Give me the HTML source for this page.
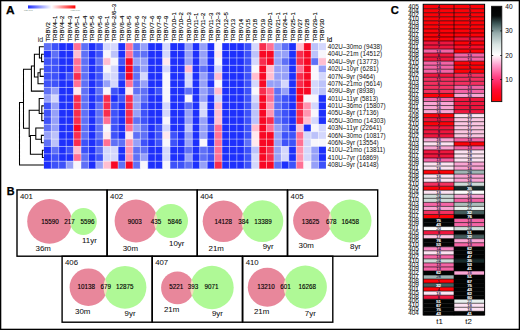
<!DOCTYPE html><html><head><meta charset="utf-8"><title>Figure</title><style>html,body{margin:0;padding:0;background:#fff;}body{width:520px;height:330px;overflow:hidden;}svg{display:block;}text{font-family:"Liberation Sans", sans-serif;}.k{fill:#000;stroke:#000;stroke-width:.12px;}.k2{fill:#111;stroke:#111;stroke-width:.05px;}</style></head><body><svg width="520" height="330" viewBox="0 0 520 330"><defs><linearGradient id="lg" x1="0" x2="1" y1="0" y2="0"><stop offset="0" stop-color="#2030ff"/><stop offset="0.5" stop-color="#ffffff"/><stop offset="1" stop-color="#ff0000"/></linearGradient><linearGradient id="cb" x1="0" x2="0" y1="1" y2="0"><stop offset="0" stop-color="#ff0000"/><stop offset="0.12" stop-color="#ff0a30"/><stop offset="0.25" stop-color="#ff3c80"/><stop offset="0.38" stop-color="#ff9ccc"/><stop offset="0.49" stop-color="#ffffff"/><stop offset="0.60" stop-color="#d8e4e2"/><stop offset="0.72" stop-color="#94aaaa"/><stop offset="0.82" stop-color="#3c5656"/><stop offset="0.90" stop-color="#050808"/><stop offset="1" stop-color="#000000"/></linearGradient></defs><rect x="0" y="0" width="520" height="330" fill="#fff"/><text x="6.0" y="13.75" font-size="10.8" font-weight="bold" fill="#000" stroke="#000" stroke-width="0.25" textLength="8.6" lengthAdjust="spacingAndGlyphs">A</text><rect x="28" y="5.4" width="47.4" height="3.1" fill="url(#lg)"/><text x="24" y="10.9" font-size="2.3" fill="#5a7a70" textLength="8.8" lengthAdjust="spacingAndGlyphs">Low level</text><text x="70.5" y="10.9" font-size="2.3" fill="#5a7a70" textLength="9.4" lengthAdjust="spacingAndGlyphs">High level</text><rect x="43.9" y="43.15" width="7.47" height="7.43" fill="rgb(95,112,246)"/><rect x="51.32" y="43.15" width="7.47" height="7.43" fill="rgb(62,82,249)"/><rect x="58.74" y="43.15" width="7.47" height="7.43" fill="rgb(30,48,252)"/><rect x="66.16" y="43.15" width="7.47" height="7.43" fill="rgb(30,48,252)"/><rect x="73.58" y="43.15" width="7.47" height="7.43" fill="rgb(255,112,148)"/><rect x="81.01" y="43.15" width="7.47" height="7.43" fill="rgb(95,112,246)"/><rect x="88.43" y="43.15" width="7.47" height="7.43" fill="rgb(30,48,252)"/><rect x="95.85" y="43.15" width="7.47" height="7.43" fill="rgb(62,82,249)"/><rect x="103.27" y="43.15" width="7.47" height="7.43" fill="rgb(212,215,252)"/><rect x="110.69" y="43.15" width="7.47" height="7.43" fill="rgb(212,215,252)"/><rect x="118.11" y="43.15" width="7.47" height="7.43" fill="rgb(30,48,252)"/><rect x="125.53" y="43.15" width="7.47" height="7.43" fill="rgb(255,112,148)"/><rect x="132.95" y="43.15" width="7.47" height="7.43" fill="rgb(95,112,246)"/><rect x="140.37" y="43.15" width="7.47" height="7.43" fill="rgb(150,160,248)"/><rect x="147.79" y="43.15" width="7.47" height="7.43" fill="rgb(30,48,252)"/><rect x="155.22" y="43.15" width="7.47" height="7.43" fill="rgb(30,48,252)"/><rect x="162.64" y="43.15" width="7.47" height="7.43" fill="rgb(212,215,252)"/><rect x="170.06" y="43.15" width="7.47" height="7.43" fill="rgb(30,48,252)"/><rect x="177.48" y="43.15" width="7.47" height="7.43" fill="rgb(30,48,252)"/><rect x="184.9" y="43.15" width="7.47" height="7.43" fill="rgb(150,160,248)"/><rect x="192.32" y="43.15" width="7.47" height="7.43" fill="rgb(30,48,252)"/><rect x="199.74" y="43.15" width="7.47" height="7.43" fill="rgb(150,160,248)"/><rect x="207.16" y="43.15" width="7.47" height="7.43" fill="rgb(30,48,252)"/><rect x="214.58" y="43.15" width="7.47" height="7.43" fill="rgb(248,246,252)"/><rect x="222.01" y="43.15" width="7.47" height="7.43" fill="rgb(30,48,252)"/><rect x="229.43" y="43.15" width="7.47" height="7.43" fill="rgb(30,48,252)"/><rect x="236.85" y="43.15" width="7.47" height="7.43" fill="rgb(30,48,252)"/><rect x="244.27" y="43.15" width="7.47" height="7.43" fill="rgb(62,82,249)"/><rect x="251.69" y="43.15" width="7.47" height="7.43" fill="rgb(212,215,252)"/><rect x="259.11" y="43.15" width="7.47" height="7.43" fill="rgb(248,45,78)"/><rect x="266.53" y="43.15" width="7.47" height="7.43" fill="rgb(255,112,148)"/><rect x="273.95" y="43.15" width="7.47" height="7.43" fill="rgb(150,160,248)"/><rect x="281.37" y="43.15" width="7.47" height="7.43" fill="rgb(95,112,246)"/><rect x="288.79" y="43.15" width="7.47" height="7.43" fill="rgb(30,48,252)"/><rect x="296.22" y="43.15" width="7.47" height="7.43" fill="rgb(255,190,208)"/><rect x="303.64" y="43.15" width="7.47" height="7.43" fill="rgb(248,8,36)"/><rect x="311.06" y="43.15" width="7.47" height="7.43" fill="rgb(188,194,250)"/><rect x="318.48" y="43.15" width="7.47" height="7.43" fill="rgb(212,215,252)"/><rect x="43.9" y="50.53" width="7.47" height="7.43" fill="rgb(30,48,252)"/><rect x="51.32" y="50.53" width="7.47" height="7.43" fill="rgb(95,112,246)"/><rect x="58.74" y="50.53" width="7.47" height="7.43" fill="rgb(30,48,252)"/><rect x="66.16" y="50.53" width="7.47" height="7.43" fill="rgb(30,48,252)"/><rect x="73.58" y="50.53" width="7.47" height="7.43" fill="rgb(255,190,208)"/><rect x="81.01" y="50.53" width="7.47" height="7.43" fill="rgb(95,112,246)"/><rect x="88.43" y="50.53" width="7.47" height="7.43" fill="rgb(30,48,252)"/><rect x="95.85" y="50.53" width="7.47" height="7.43" fill="rgb(62,82,249)"/><rect x="103.27" y="50.53" width="7.47" height="7.43" fill="rgb(248,246,252)"/><rect x="110.69" y="50.53" width="7.47" height="7.43" fill="rgb(188,194,250)"/><rect x="118.11" y="50.53" width="7.47" height="7.43" fill="rgb(30,48,252)"/><rect x="125.53" y="50.53" width="7.47" height="7.43" fill="rgb(255,112,148)"/><rect x="132.95" y="50.53" width="7.47" height="7.43" fill="rgb(95,112,246)"/><rect x="140.37" y="50.53" width="7.47" height="7.43" fill="rgb(95,112,246)"/><rect x="147.79" y="50.53" width="7.47" height="7.43" fill="rgb(30,48,252)"/><rect x="155.22" y="50.53" width="7.47" height="7.43" fill="rgb(30,48,252)"/><rect x="162.64" y="50.53" width="7.47" height="7.43" fill="rgb(212,215,252)"/><rect x="170.06" y="50.53" width="7.47" height="7.43" fill="rgb(30,48,252)"/><rect x="177.48" y="50.53" width="7.47" height="7.43" fill="rgb(30,48,252)"/><rect x="184.9" y="50.53" width="7.47" height="7.43" fill="rgb(150,160,248)"/><rect x="192.32" y="50.53" width="7.47" height="7.43" fill="rgb(30,48,252)"/><rect x="199.74" y="50.53" width="7.47" height="7.43" fill="rgb(150,160,248)"/><rect x="207.16" y="50.53" width="7.47" height="7.43" fill="rgb(30,48,252)"/><rect x="214.58" y="50.53" width="7.47" height="7.43" fill="rgb(255,232,238)"/><rect x="222.01" y="50.53" width="7.47" height="7.43" fill="rgb(30,48,252)"/><rect x="229.43" y="50.53" width="7.47" height="7.43" fill="rgb(30,48,252)"/><rect x="236.85" y="50.53" width="7.47" height="7.43" fill="rgb(30,48,252)"/><rect x="244.27" y="50.53" width="7.47" height="7.43" fill="rgb(62,82,249)"/><rect x="251.69" y="50.53" width="7.47" height="7.43" fill="rgb(188,194,250)"/><rect x="259.11" y="50.53" width="7.47" height="7.43" fill="rgb(248,8,36)"/><rect x="266.53" y="50.53" width="7.47" height="7.43" fill="rgb(248,8,36)"/><rect x="273.95" y="50.53" width="7.47" height="7.43" fill="rgb(150,160,248)"/><rect x="281.37" y="50.53" width="7.47" height="7.43" fill="rgb(150,160,248)"/><rect x="288.79" y="50.53" width="7.47" height="7.43" fill="rgb(30,48,252)"/><rect x="296.22" y="50.53" width="7.47" height="7.43" fill="rgb(248,45,78)"/><rect x="303.64" y="50.53" width="7.47" height="7.43" fill="rgb(248,8,36)"/><rect x="311.06" y="50.53" width="7.47" height="7.43" fill="rgb(188,194,250)"/><rect x="318.48" y="50.53" width="7.47" height="7.43" fill="rgb(248,246,252)"/><rect x="43.9" y="57.91" width="7.47" height="7.43" fill="rgb(62,82,249)"/><rect x="51.32" y="57.91" width="7.47" height="7.43" fill="rgb(62,82,249)"/><rect x="58.74" y="57.91" width="7.47" height="7.43" fill="rgb(30,48,252)"/><rect x="66.16" y="57.91" width="7.47" height="7.43" fill="rgb(30,48,252)"/><rect x="73.58" y="57.91" width="7.47" height="7.43" fill="rgb(255,112,148)"/><rect x="81.01" y="57.91" width="7.47" height="7.43" fill="rgb(95,112,246)"/><rect x="88.43" y="57.91" width="7.47" height="7.43" fill="rgb(30,48,252)"/><rect x="95.85" y="57.91" width="7.47" height="7.43" fill="rgb(95,112,246)"/><rect x="103.27" y="57.91" width="7.47" height="7.43" fill="rgb(255,190,208)"/><rect x="110.69" y="57.91" width="7.47" height="7.43" fill="rgb(248,246,252)"/><rect x="118.11" y="57.91" width="7.47" height="7.43" fill="rgb(62,82,249)"/><rect x="125.53" y="57.91" width="7.47" height="7.43" fill="rgb(248,8,36)"/><rect x="132.95" y="57.91" width="7.47" height="7.43" fill="rgb(150,160,248)"/><rect x="140.37" y="57.91" width="7.47" height="7.43" fill="rgb(150,160,248)"/><rect x="147.79" y="57.91" width="7.47" height="7.43" fill="rgb(30,48,252)"/><rect x="155.22" y="57.91" width="7.47" height="7.43" fill="rgb(30,48,252)"/><rect x="162.64" y="57.91" width="7.47" height="7.43" fill="rgb(255,232,238)"/><rect x="170.06" y="57.91" width="7.47" height="7.43" fill="rgb(30,48,252)"/><rect x="177.48" y="57.91" width="7.47" height="7.43" fill="rgb(30,48,252)"/><rect x="184.9" y="57.91" width="7.47" height="7.43" fill="rgb(150,160,248)"/><rect x="192.32" y="57.91" width="7.47" height="7.43" fill="rgb(30,48,252)"/><rect x="199.74" y="57.91" width="7.47" height="7.43" fill="rgb(150,160,248)"/><rect x="207.16" y="57.91" width="7.47" height="7.43" fill="rgb(30,48,252)"/><rect x="214.58" y="57.91" width="7.47" height="7.43" fill="rgb(248,246,252)"/><rect x="222.01" y="57.91" width="7.47" height="7.43" fill="rgb(30,48,252)"/><rect x="229.43" y="57.91" width="7.47" height="7.43" fill="rgb(30,48,252)"/><rect x="236.85" y="57.91" width="7.47" height="7.43" fill="rgb(30,48,252)"/><rect x="244.27" y="57.91" width="7.47" height="7.43" fill="rgb(62,82,249)"/><rect x="251.69" y="57.91" width="7.47" height="7.43" fill="rgb(212,215,252)"/><rect x="259.11" y="57.91" width="7.47" height="7.43" fill="rgb(248,45,78)"/><rect x="266.53" y="57.91" width="7.47" height="7.43" fill="rgb(248,8,36)"/><rect x="273.95" y="57.91" width="7.47" height="7.43" fill="rgb(150,160,248)"/><rect x="281.37" y="57.91" width="7.47" height="7.43" fill="rgb(95,112,246)"/><rect x="288.79" y="57.91" width="7.47" height="7.43" fill="rgb(30,48,252)"/><rect x="296.22" y="57.91" width="7.47" height="7.43" fill="rgb(248,45,78)"/><rect x="303.64" y="57.91" width="7.47" height="7.43" fill="rgb(248,8,36)"/><rect x="311.06" y="57.91" width="7.47" height="7.43" fill="rgb(95,112,246)"/><rect x="318.48" y="57.91" width="7.47" height="7.43" fill="rgb(255,190,208)"/><rect x="43.9" y="65.29" width="7.47" height="7.43" fill="rgb(62,82,249)"/><rect x="51.32" y="65.29" width="7.47" height="7.43" fill="rgb(62,82,249)"/><rect x="58.74" y="65.29" width="7.47" height="7.43" fill="rgb(30,48,252)"/><rect x="66.16" y="65.29" width="7.47" height="7.43" fill="rgb(30,48,252)"/><rect x="73.58" y="65.29" width="7.47" height="7.43" fill="rgb(255,112,148)"/><rect x="81.01" y="65.29" width="7.47" height="7.43" fill="rgb(95,112,246)"/><rect x="88.43" y="65.29" width="7.47" height="7.43" fill="rgb(30,48,252)"/><rect x="95.85" y="65.29" width="7.47" height="7.43" fill="rgb(62,82,249)"/><rect x="103.27" y="65.29" width="7.47" height="7.43" fill="rgb(248,246,252)"/><rect x="110.69" y="65.29" width="7.47" height="7.43" fill="rgb(212,215,252)"/><rect x="118.11" y="65.29" width="7.47" height="7.43" fill="rgb(30,48,252)"/><rect x="125.53" y="65.29" width="7.47" height="7.43" fill="rgb(248,8,36)"/><rect x="132.95" y="65.29" width="7.47" height="7.43" fill="rgb(95,112,246)"/><rect x="140.37" y="65.29" width="7.47" height="7.43" fill="rgb(150,160,248)"/><rect x="147.79" y="65.29" width="7.47" height="7.43" fill="rgb(30,48,252)"/><rect x="155.22" y="65.29" width="7.47" height="7.43" fill="rgb(30,48,252)"/><rect x="162.64" y="65.29" width="7.47" height="7.43" fill="rgb(212,215,252)"/><rect x="170.06" y="65.29" width="7.47" height="7.43" fill="rgb(30,48,252)"/><rect x="177.48" y="65.29" width="7.47" height="7.43" fill="rgb(30,48,252)"/><rect x="184.9" y="65.29" width="7.47" height="7.43" fill="rgb(255,190,208)"/><rect x="192.32" y="65.29" width="7.47" height="7.43" fill="rgb(30,48,252)"/><rect x="199.74" y="65.29" width="7.47" height="7.43" fill="rgb(95,112,246)"/><rect x="207.16" y="65.29" width="7.47" height="7.43" fill="rgb(30,48,252)"/><rect x="214.58" y="65.29" width="7.47" height="7.43" fill="rgb(212,215,252)"/><rect x="222.01" y="65.29" width="7.47" height="7.43" fill="rgb(30,48,252)"/><rect x="229.43" y="65.29" width="7.47" height="7.43" fill="rgb(30,48,252)"/><rect x="236.85" y="65.29" width="7.47" height="7.43" fill="rgb(30,48,252)"/><rect x="244.27" y="65.29" width="7.47" height="7.43" fill="rgb(62,82,249)"/><rect x="251.69" y="65.29" width="7.47" height="7.43" fill="rgb(248,246,252)"/><rect x="259.11" y="65.29" width="7.47" height="7.43" fill="rgb(248,8,36)"/><rect x="266.53" y="65.29" width="7.47" height="7.43" fill="rgb(255,190,208)"/><rect x="273.95" y="65.29" width="7.47" height="7.43" fill="rgb(150,160,248)"/><rect x="281.37" y="65.29" width="7.47" height="7.43" fill="rgb(150,160,248)"/><rect x="288.79" y="65.29" width="7.47" height="7.43" fill="rgb(30,48,252)"/><rect x="296.22" y="65.29" width="7.47" height="7.43" fill="rgb(255,112,148)"/><rect x="303.64" y="65.29" width="7.47" height="7.43" fill="rgb(248,8,36)"/><rect x="311.06" y="65.29" width="7.47" height="7.43" fill="rgb(248,246,252)"/><rect x="318.48" y="65.29" width="7.47" height="7.43" fill="rgb(150,160,248)"/><rect x="43.9" y="72.67" width="7.47" height="7.43" fill="rgb(62,82,249)"/><rect x="51.32" y="72.67" width="7.47" height="7.43" fill="rgb(62,82,249)"/><rect x="58.74" y="72.67" width="7.47" height="7.43" fill="rgb(30,48,252)"/><rect x="66.16" y="72.67" width="7.47" height="7.43" fill="rgb(62,82,249)"/><rect x="73.58" y="72.67" width="7.47" height="7.43" fill="rgb(248,45,78)"/><rect x="81.01" y="72.67" width="7.47" height="7.43" fill="rgb(95,112,246)"/><rect x="88.43" y="72.67" width="7.47" height="7.43" fill="rgb(30,48,252)"/><rect x="95.85" y="72.67" width="7.47" height="7.43" fill="rgb(62,82,249)"/><rect x="103.27" y="72.67" width="7.47" height="7.43" fill="rgb(212,215,252)"/><rect x="110.69" y="72.67" width="7.47" height="7.43" fill="rgb(212,215,252)"/><rect x="118.11" y="72.67" width="7.47" height="7.43" fill="rgb(62,82,249)"/><rect x="125.53" y="72.67" width="7.47" height="7.43" fill="rgb(248,8,36)"/><rect x="132.95" y="72.67" width="7.47" height="7.43" fill="rgb(95,112,246)"/><rect x="140.37" y="72.67" width="7.47" height="7.43" fill="rgb(212,215,252)"/><rect x="147.79" y="72.67" width="7.47" height="7.43" fill="rgb(30,48,252)"/><rect x="155.22" y="72.67" width="7.47" height="7.43" fill="rgb(30,48,252)"/><rect x="162.64" y="72.67" width="7.47" height="7.43" fill="rgb(248,246,252)"/><rect x="170.06" y="72.67" width="7.47" height="7.43" fill="rgb(30,48,252)"/><rect x="177.48" y="72.67" width="7.47" height="7.43" fill="rgb(30,48,252)"/><rect x="184.9" y="72.67" width="7.47" height="7.43" fill="rgb(212,215,252)"/><rect x="192.32" y="72.67" width="7.47" height="7.43" fill="rgb(30,48,252)"/><rect x="199.74" y="72.67" width="7.47" height="7.43" fill="rgb(150,160,248)"/><rect x="207.16" y="72.67" width="7.47" height="7.43" fill="rgb(62,82,249)"/><rect x="214.58" y="72.67" width="7.47" height="7.43" fill="rgb(255,190,208)"/><rect x="222.01" y="72.67" width="7.47" height="7.43" fill="rgb(30,48,252)"/><rect x="229.43" y="72.67" width="7.47" height="7.43" fill="rgb(30,48,252)"/><rect x="236.85" y="72.67" width="7.47" height="7.43" fill="rgb(30,48,252)"/><rect x="244.27" y="72.67" width="7.47" height="7.43" fill="rgb(62,82,249)"/><rect x="251.69" y="72.67" width="7.47" height="7.43" fill="rgb(255,190,208)"/><rect x="259.11" y="72.67" width="7.47" height="7.43" fill="rgb(248,8,36)"/><rect x="266.53" y="72.67" width="7.47" height="7.43" fill="rgb(255,190,208)"/><rect x="273.95" y="72.67" width="7.47" height="7.43" fill="rgb(150,160,248)"/><rect x="281.37" y="72.67" width="7.47" height="7.43" fill="rgb(150,160,248)"/><rect x="288.79" y="72.67" width="7.47" height="7.43" fill="rgb(30,48,252)"/><rect x="296.22" y="72.67" width="7.47" height="7.43" fill="rgb(248,45,78)"/><rect x="303.64" y="72.67" width="7.47" height="7.43" fill="rgb(248,8,36)"/><rect x="311.06" y="72.67" width="7.47" height="7.43" fill="rgb(248,246,252)"/><rect x="318.48" y="72.67" width="7.47" height="7.43" fill="rgb(212,215,252)"/><rect x="43.9" y="80.05" width="7.47" height="7.43" fill="rgb(62,82,249)"/><rect x="51.32" y="80.05" width="7.47" height="7.43" fill="rgb(62,82,249)"/><rect x="58.74" y="80.05" width="7.47" height="7.43" fill="rgb(30,48,252)"/><rect x="66.16" y="80.05" width="7.47" height="7.43" fill="rgb(30,48,252)"/><rect x="73.58" y="80.05" width="7.47" height="7.43" fill="rgb(255,112,148)"/><rect x="81.01" y="80.05" width="7.47" height="7.43" fill="rgb(95,112,246)"/><rect x="88.43" y="80.05" width="7.47" height="7.43" fill="rgb(30,48,252)"/><rect x="95.85" y="80.05" width="7.47" height="7.43" fill="rgb(62,82,249)"/><rect x="103.27" y="80.05" width="7.47" height="7.43" fill="rgb(150,160,248)"/><rect x="110.69" y="80.05" width="7.47" height="7.43" fill="rgb(212,215,252)"/><rect x="118.11" y="80.05" width="7.47" height="7.43" fill="rgb(30,48,252)"/><rect x="125.53" y="80.05" width="7.47" height="7.43" fill="rgb(255,112,148)"/><rect x="132.95" y="80.05" width="7.47" height="7.43" fill="rgb(95,112,246)"/><rect x="140.37" y="80.05" width="7.47" height="7.43" fill="rgb(150,160,248)"/><rect x="147.79" y="80.05" width="7.47" height="7.43" fill="rgb(30,48,252)"/><rect x="155.22" y="80.05" width="7.47" height="7.43" fill="rgb(30,48,252)"/><rect x="162.64" y="80.05" width="7.47" height="7.43" fill="rgb(248,246,252)"/><rect x="170.06" y="80.05" width="7.47" height="7.43" fill="rgb(30,48,252)"/><rect x="177.48" y="80.05" width="7.47" height="7.43" fill="rgb(30,48,252)"/><rect x="184.9" y="80.05" width="7.47" height="7.43" fill="rgb(212,215,252)"/><rect x="192.32" y="80.05" width="7.47" height="7.43" fill="rgb(30,48,252)"/><rect x="199.74" y="80.05" width="7.47" height="7.43" fill="rgb(150,160,248)"/><rect x="207.16" y="80.05" width="7.47" height="7.43" fill="rgb(30,48,252)"/><rect x="214.58" y="80.05" width="7.47" height="7.43" fill="rgb(248,246,252)"/><rect x="222.01" y="80.05" width="7.47" height="7.43" fill="rgb(30,48,252)"/><rect x="229.43" y="80.05" width="7.47" height="7.43" fill="rgb(30,48,252)"/><rect x="236.85" y="80.05" width="7.47" height="7.43" fill="rgb(30,48,252)"/><rect x="244.27" y="80.05" width="7.47" height="7.43" fill="rgb(62,82,249)"/><rect x="251.69" y="80.05" width="7.47" height="7.43" fill="rgb(212,215,252)"/><rect x="259.11" y="80.05" width="7.47" height="7.43" fill="rgb(248,8,36)"/><rect x="266.53" y="80.05" width="7.47" height="7.43" fill="rgb(150,160,248)"/><rect x="273.95" y="80.05" width="7.47" height="7.43" fill="rgb(150,160,248)"/><rect x="281.37" y="80.05" width="7.47" height="7.43" fill="rgb(212,215,252)"/><rect x="288.79" y="80.05" width="7.47" height="7.43" fill="rgb(30,48,252)"/><rect x="296.22" y="80.05" width="7.47" height="7.43" fill="rgb(248,45,78)"/><rect x="303.64" y="80.05" width="7.47" height="7.43" fill="rgb(248,8,36)"/><rect x="311.06" y="80.05" width="7.47" height="7.43" fill="rgb(212,215,252)"/><rect x="318.48" y="80.05" width="7.47" height="7.43" fill="rgb(188,194,250)"/><rect x="43.9" y="87.43" width="7.47" height="7.43" fill="rgb(95,112,246)"/><rect x="51.32" y="87.43" width="7.47" height="7.43" fill="rgb(150,160,248)"/><rect x="58.74" y="87.43" width="7.47" height="7.43" fill="rgb(30,48,252)"/><rect x="66.16" y="87.43" width="7.47" height="7.43" fill="rgb(30,48,252)"/><rect x="73.58" y="87.43" width="7.47" height="7.43" fill="rgb(255,232,238)"/><rect x="81.01" y="87.43" width="7.47" height="7.43" fill="rgb(95,112,246)"/><rect x="88.43" y="87.43" width="7.47" height="7.43" fill="rgb(30,48,252)"/><rect x="95.85" y="87.43" width="7.47" height="7.43" fill="rgb(95,112,246)"/><rect x="103.27" y="87.43" width="7.47" height="7.43" fill="rgb(248,246,252)"/><rect x="110.69" y="87.43" width="7.47" height="7.43" fill="rgb(62,82,249)"/><rect x="118.11" y="87.43" width="7.47" height="7.43" fill="rgb(30,48,252)"/><rect x="125.53" y="87.43" width="7.47" height="7.43" fill="rgb(255,232,238)"/><rect x="132.95" y="87.43" width="7.47" height="7.43" fill="rgb(95,112,246)"/><rect x="140.37" y="87.43" width="7.47" height="7.43" fill="rgb(95,112,246)"/><rect x="147.79" y="87.43" width="7.47" height="7.43" fill="rgb(30,48,252)"/><rect x="155.22" y="87.43" width="7.47" height="7.43" fill="rgb(62,82,249)"/><rect x="162.64" y="87.43" width="7.47" height="7.43" fill="rgb(248,246,252)"/><rect x="170.06" y="87.43" width="7.47" height="7.43" fill="rgb(30,48,252)"/><rect x="177.48" y="87.43" width="7.47" height="7.43" fill="rgb(30,48,252)"/><rect x="184.9" y="87.43" width="7.47" height="7.43" fill="rgb(95,112,246)"/><rect x="192.32" y="87.43" width="7.47" height="7.43" fill="rgb(30,48,252)"/><rect x="199.74" y="87.43" width="7.47" height="7.43" fill="rgb(150,160,248)"/><rect x="207.16" y="87.43" width="7.47" height="7.43" fill="rgb(95,112,246)"/><rect x="214.58" y="87.43" width="7.47" height="7.43" fill="rgb(255,190,208)"/><rect x="222.01" y="87.43" width="7.47" height="7.43" fill="rgb(30,48,252)"/><rect x="229.43" y="87.43" width="7.47" height="7.43" fill="rgb(30,48,252)"/><rect x="236.85" y="87.43" width="7.47" height="7.43" fill="rgb(30,48,252)"/><rect x="244.27" y="87.43" width="7.47" height="7.43" fill="rgb(62,82,249)"/><rect x="251.69" y="87.43" width="7.47" height="7.43" fill="rgb(248,246,252)"/><rect x="259.11" y="87.43" width="7.47" height="7.43" fill="rgb(248,45,78)"/><rect x="266.53" y="87.43" width="7.47" height="7.43" fill="rgb(255,112,148)"/><rect x="273.95" y="87.43" width="7.47" height="7.43" fill="rgb(95,112,246)"/><rect x="281.37" y="87.43" width="7.47" height="7.43" fill="rgb(150,160,248)"/><rect x="288.79" y="87.43" width="7.47" height="7.43" fill="rgb(30,48,252)"/><rect x="296.22" y="87.43" width="7.47" height="7.43" fill="rgb(248,8,36)"/><rect x="303.64" y="87.43" width="7.47" height="7.43" fill="rgb(248,8,36)"/><rect x="311.06" y="87.43" width="7.47" height="7.43" fill="rgb(212,215,252)"/><rect x="318.48" y="87.43" width="7.47" height="7.43" fill="rgb(188,194,250)"/><rect x="43.9" y="94.81" width="7.47" height="7.43" fill="rgb(150,160,248)"/><rect x="51.32" y="94.81" width="7.47" height="7.43" fill="rgb(212,215,252)"/><rect x="58.74" y="94.81" width="7.47" height="7.43" fill="rgb(30,48,252)"/><rect x="66.16" y="94.81" width="7.47" height="7.43" fill="rgb(30,48,252)"/><rect x="73.58" y="94.81" width="7.47" height="7.43" fill="rgb(248,45,78)"/><rect x="81.01" y="94.81" width="7.47" height="7.43" fill="rgb(95,112,246)"/><rect x="88.43" y="94.81" width="7.47" height="7.43" fill="rgb(30,48,252)"/><rect x="95.85" y="94.81" width="7.47" height="7.43" fill="rgb(62,82,249)"/><rect x="103.27" y="94.81" width="7.47" height="7.43" fill="rgb(248,45,78)"/><rect x="110.69" y="94.81" width="7.47" height="7.43" fill="rgb(30,48,252)"/><rect x="118.11" y="94.81" width="7.47" height="7.43" fill="rgb(62,82,249)"/><rect x="125.53" y="94.81" width="7.47" height="7.43" fill="rgb(248,45,78)"/><rect x="132.95" y="94.81" width="7.47" height="7.43" fill="rgb(150,160,248)"/><rect x="140.37" y="94.81" width="7.47" height="7.43" fill="rgb(95,112,246)"/><rect x="147.79" y="94.81" width="7.47" height="7.43" fill="rgb(30,48,252)"/><rect x="155.22" y="94.81" width="7.47" height="7.43" fill="rgb(30,48,252)"/><rect x="162.64" y="94.81" width="7.47" height="7.43" fill="rgb(248,246,252)"/><rect x="170.06" y="94.81" width="7.47" height="7.43" fill="rgb(30,48,252)"/><rect x="177.48" y="94.81" width="7.47" height="7.43" fill="rgb(30,48,252)"/><rect x="184.9" y="94.81" width="7.47" height="7.43" fill="rgb(248,246,252)"/><rect x="192.32" y="94.81" width="7.47" height="7.43" fill="rgb(30,48,252)"/><rect x="199.74" y="94.81" width="7.47" height="7.43" fill="rgb(150,160,248)"/><rect x="207.16" y="94.81" width="7.47" height="7.43" fill="rgb(30,48,252)"/><rect x="214.58" y="94.81" width="7.47" height="7.43" fill="rgb(212,215,252)"/><rect x="222.01" y="94.81" width="7.47" height="7.43" fill="rgb(30,48,252)"/><rect x="229.43" y="94.81" width="7.47" height="7.43" fill="rgb(30,48,252)"/><rect x="236.85" y="94.81" width="7.47" height="7.43" fill="rgb(30,48,252)"/><rect x="244.27" y="94.81" width="7.47" height="7.43" fill="rgb(62,82,249)"/><rect x="251.69" y="94.81" width="7.47" height="7.43" fill="rgb(212,215,252)"/><rect x="259.11" y="94.81" width="7.47" height="7.43" fill="rgb(248,8,36)"/><rect x="266.53" y="94.81" width="7.47" height="7.43" fill="rgb(255,112,148)"/><rect x="273.95" y="94.81" width="7.47" height="7.43" fill="rgb(95,112,246)"/><rect x="281.37" y="94.81" width="7.47" height="7.43" fill="rgb(62,82,249)"/><rect x="288.79" y="94.81" width="7.47" height="7.43" fill="rgb(30,48,252)"/><rect x="296.22" y="94.81" width="7.47" height="7.43" fill="rgb(248,8,36)"/><rect x="303.64" y="94.81" width="7.47" height="7.43" fill="rgb(248,246,252)"/><rect x="311.06" y="94.81" width="7.47" height="7.43" fill="rgb(248,246,252)"/><rect x="318.48" y="94.81" width="7.47" height="7.43" fill="rgb(30,48,252)"/><rect x="43.9" y="102.19" width="7.47" height="7.43" fill="rgb(62,82,249)"/><rect x="51.32" y="102.19" width="7.47" height="7.43" fill="rgb(150,160,248)"/><rect x="58.74" y="102.19" width="7.47" height="7.43" fill="rgb(30,48,252)"/><rect x="66.16" y="102.19" width="7.47" height="7.43" fill="rgb(30,48,252)"/><rect x="73.58" y="102.19" width="7.47" height="7.43" fill="rgb(248,45,78)"/><rect x="81.01" y="102.19" width="7.47" height="7.43" fill="rgb(95,112,246)"/><rect x="88.43" y="102.19" width="7.47" height="7.43" fill="rgb(30,48,252)"/><rect x="95.85" y="102.19" width="7.47" height="7.43" fill="rgb(95,112,246)"/><rect x="103.27" y="102.19" width="7.47" height="7.43" fill="rgb(248,45,78)"/><rect x="110.69" y="102.19" width="7.47" height="7.43" fill="rgb(62,82,249)"/><rect x="118.11" y="102.19" width="7.47" height="7.43" fill="rgb(30,48,252)"/><rect x="125.53" y="102.19" width="7.47" height="7.43" fill="rgb(248,45,78)"/><rect x="132.95" y="102.19" width="7.47" height="7.43" fill="rgb(150,160,248)"/><rect x="140.37" y="102.19" width="7.47" height="7.43" fill="rgb(62,82,249)"/><rect x="147.79" y="102.19" width="7.47" height="7.43" fill="rgb(30,48,252)"/><rect x="155.22" y="102.19" width="7.47" height="7.43" fill="rgb(30,48,252)"/><rect x="162.64" y="102.19" width="7.47" height="7.43" fill="rgb(212,215,252)"/><rect x="170.06" y="102.19" width="7.47" height="7.43" fill="rgb(30,48,252)"/><rect x="177.48" y="102.19" width="7.47" height="7.43" fill="rgb(30,48,252)"/><rect x="184.9" y="102.19" width="7.47" height="7.43" fill="rgb(95,112,246)"/><rect x="192.32" y="102.19" width="7.47" height="7.43" fill="rgb(30,48,252)"/><rect x="199.74" y="102.19" width="7.47" height="7.43" fill="rgb(212,215,252)"/><rect x="207.16" y="102.19" width="7.47" height="7.43" fill="rgb(30,48,252)"/><rect x="214.58" y="102.19" width="7.47" height="7.43" fill="rgb(255,190,208)"/><rect x="222.01" y="102.19" width="7.47" height="7.43" fill="rgb(30,48,252)"/><rect x="229.43" y="102.19" width="7.47" height="7.43" fill="rgb(30,48,252)"/><rect x="236.85" y="102.19" width="7.47" height="7.43" fill="rgb(30,48,252)"/><rect x="244.27" y="102.19" width="7.47" height="7.43" fill="rgb(62,82,249)"/><rect x="251.69" y="102.19" width="7.47" height="7.43" fill="rgb(188,194,250)"/><rect x="259.11" y="102.19" width="7.47" height="7.43" fill="rgb(248,8,36)"/><rect x="266.53" y="102.19" width="7.47" height="7.43" fill="rgb(255,148,176)"/><rect x="273.95" y="102.19" width="7.47" height="7.43" fill="rgb(95,112,246)"/><rect x="281.37" y="102.19" width="7.47" height="7.43" fill="rgb(62,82,249)"/><rect x="288.79" y="102.19" width="7.47" height="7.43" fill="rgb(30,48,252)"/><rect x="296.22" y="102.19" width="7.47" height="7.43" fill="rgb(248,45,78)"/><rect x="303.64" y="102.19" width="7.47" height="7.43" fill="rgb(255,148,176)"/><rect x="311.06" y="102.19" width="7.47" height="7.43" fill="rgb(212,215,252)"/><rect x="318.48" y="102.19" width="7.47" height="7.43" fill="rgb(30,48,252)"/><rect x="43.9" y="109.56" width="7.47" height="7.43" fill="rgb(62,82,249)"/><rect x="51.32" y="109.56" width="7.47" height="7.43" fill="rgb(150,160,248)"/><rect x="58.74" y="109.56" width="7.47" height="7.43" fill="rgb(30,48,252)"/><rect x="66.16" y="109.56" width="7.47" height="7.43" fill="rgb(30,48,252)"/><rect x="73.58" y="109.56" width="7.47" height="7.43" fill="rgb(248,45,78)"/><rect x="81.01" y="109.56" width="7.47" height="7.43" fill="rgb(95,112,246)"/><rect x="88.43" y="109.56" width="7.47" height="7.43" fill="rgb(30,48,252)"/><rect x="95.85" y="109.56" width="7.47" height="7.43" fill="rgb(95,112,246)"/><rect x="103.27" y="109.56" width="7.47" height="7.43" fill="rgb(248,45,78)"/><rect x="110.69" y="109.56" width="7.47" height="7.43" fill="rgb(62,82,249)"/><rect x="118.11" y="109.56" width="7.47" height="7.43" fill="rgb(30,48,252)"/><rect x="125.53" y="109.56" width="7.47" height="7.43" fill="rgb(248,45,78)"/><rect x="132.95" y="109.56" width="7.47" height="7.43" fill="rgb(150,160,248)"/><rect x="140.37" y="109.56" width="7.47" height="7.43" fill="rgb(62,82,249)"/><rect x="147.79" y="109.56" width="7.47" height="7.43" fill="rgb(30,48,252)"/><rect x="155.22" y="109.56" width="7.47" height="7.43" fill="rgb(30,48,252)"/><rect x="162.64" y="109.56" width="7.47" height="7.43" fill="rgb(212,215,252)"/><rect x="170.06" y="109.56" width="7.47" height="7.43" fill="rgb(30,48,252)"/><rect x="177.48" y="109.56" width="7.47" height="7.43" fill="rgb(30,48,252)"/><rect x="184.9" y="109.56" width="7.47" height="7.43" fill="rgb(150,160,248)"/><rect x="192.32" y="109.56" width="7.47" height="7.43" fill="rgb(30,48,252)"/><rect x="199.74" y="109.56" width="7.47" height="7.43" fill="rgb(212,215,252)"/><rect x="207.16" y="109.56" width="7.47" height="7.43" fill="rgb(30,48,252)"/><rect x="214.58" y="109.56" width="7.47" height="7.43" fill="rgb(255,190,208)"/><rect x="222.01" y="109.56" width="7.47" height="7.43" fill="rgb(30,48,252)"/><rect x="229.43" y="109.56" width="7.47" height="7.43" fill="rgb(30,48,252)"/><rect x="236.85" y="109.56" width="7.47" height="7.43" fill="rgb(30,48,252)"/><rect x="244.27" y="109.56" width="7.47" height="7.43" fill="rgb(62,82,249)"/><rect x="251.69" y="109.56" width="7.47" height="7.43" fill="rgb(188,194,250)"/><rect x="259.11" y="109.56" width="7.47" height="7.43" fill="rgb(248,8,36)"/><rect x="266.53" y="109.56" width="7.47" height="7.43" fill="rgb(255,148,176)"/><rect x="273.95" y="109.56" width="7.47" height="7.43" fill="rgb(95,112,246)"/><rect x="281.37" y="109.56" width="7.47" height="7.43" fill="rgb(62,82,249)"/><rect x="288.79" y="109.56" width="7.47" height="7.43" fill="rgb(30,48,252)"/><rect x="296.22" y="109.56" width="7.47" height="7.43" fill="rgb(248,45,78)"/><rect x="303.64" y="109.56" width="7.47" height="7.43" fill="rgb(255,148,176)"/><rect x="311.06" y="109.56" width="7.47" height="7.43" fill="rgb(248,246,252)"/><rect x="318.48" y="109.56" width="7.47" height="7.43" fill="rgb(30,48,252)"/><rect x="43.9" y="116.94" width="7.47" height="7.43" fill="rgb(62,82,249)"/><rect x="51.32" y="116.94" width="7.47" height="7.43" fill="rgb(150,160,248)"/><rect x="58.74" y="116.94" width="7.47" height="7.43" fill="rgb(30,48,252)"/><rect x="66.16" y="116.94" width="7.47" height="7.43" fill="rgb(30,48,252)"/><rect x="73.58" y="116.94" width="7.47" height="7.43" fill="rgb(248,45,78)"/><rect x="81.01" y="116.94" width="7.47" height="7.43" fill="rgb(95,112,246)"/><rect x="88.43" y="116.94" width="7.47" height="7.43" fill="rgb(30,48,252)"/><rect x="95.85" y="116.94" width="7.47" height="7.43" fill="rgb(95,112,246)"/><rect x="103.27" y="116.94" width="7.47" height="7.43" fill="rgb(255,112,148)"/><rect x="110.69" y="116.94" width="7.47" height="7.43" fill="rgb(62,82,249)"/><rect x="118.11" y="116.94" width="7.47" height="7.43" fill="rgb(30,48,252)"/><rect x="125.53" y="116.94" width="7.47" height="7.43" fill="rgb(248,45,78)"/><rect x="132.95" y="116.94" width="7.47" height="7.43" fill="rgb(95,112,246)"/><rect x="140.37" y="116.94" width="7.47" height="7.43" fill="rgb(62,82,249)"/><rect x="147.79" y="116.94" width="7.47" height="7.43" fill="rgb(30,48,252)"/><rect x="155.22" y="116.94" width="7.47" height="7.43" fill="rgb(30,48,252)"/><rect x="162.64" y="116.94" width="7.47" height="7.43" fill="rgb(248,246,252)"/><rect x="170.06" y="116.94" width="7.47" height="7.43" fill="rgb(30,48,252)"/><rect x="177.48" y="116.94" width="7.47" height="7.43" fill="rgb(30,48,252)"/><rect x="184.9" y="116.94" width="7.47" height="7.43" fill="rgb(150,160,248)"/><rect x="192.32" y="116.94" width="7.47" height="7.43" fill="rgb(30,48,252)"/><rect x="199.74" y="116.94" width="7.47" height="7.43" fill="rgb(150,160,248)"/><rect x="207.16" y="116.94" width="7.47" height="7.43" fill="rgb(30,48,252)"/><rect x="214.58" y="116.94" width="7.47" height="7.43" fill="rgb(255,190,208)"/><rect x="222.01" y="116.94" width="7.47" height="7.43" fill="rgb(30,48,252)"/><rect x="229.43" y="116.94" width="7.47" height="7.43" fill="rgb(30,48,252)"/><rect x="236.85" y="116.94" width="7.47" height="7.43" fill="rgb(30,48,252)"/><rect x="244.27" y="116.94" width="7.47" height="7.43" fill="rgb(62,82,249)"/><rect x="251.69" y="116.94" width="7.47" height="7.43" fill="rgb(188,194,250)"/><rect x="259.11" y="116.94" width="7.47" height="7.43" fill="rgb(248,8,36)"/><rect x="266.53" y="116.94" width="7.47" height="7.43" fill="rgb(248,45,78)"/><rect x="273.95" y="116.94" width="7.47" height="7.43" fill="rgb(95,112,246)"/><rect x="281.37" y="116.94" width="7.47" height="7.43" fill="rgb(62,82,249)"/><rect x="288.79" y="116.94" width="7.47" height="7.43" fill="rgb(30,48,252)"/><rect x="296.22" y="116.94" width="7.47" height="7.43" fill="rgb(248,45,78)"/><rect x="303.64" y="116.94" width="7.47" height="7.43" fill="rgb(255,190,208)"/><rect x="311.06" y="116.94" width="7.47" height="7.43" fill="rgb(212,215,252)"/><rect x="318.48" y="116.94" width="7.47" height="7.43" fill="rgb(30,48,252)"/><rect x="43.9" y="124.32" width="7.47" height="7.43" fill="rgb(95,112,246)"/><rect x="51.32" y="124.32" width="7.47" height="7.43" fill="rgb(150,160,248)"/><rect x="58.74" y="124.32" width="7.47" height="7.43" fill="rgb(30,48,252)"/><rect x="66.16" y="124.32" width="7.47" height="7.43" fill="rgb(30,48,252)"/><rect x="73.58" y="124.32" width="7.47" height="7.43" fill="rgb(248,8,36)"/><rect x="81.01" y="124.32" width="7.47" height="7.43" fill="rgb(95,112,246)"/><rect x="88.43" y="124.32" width="7.47" height="7.43" fill="rgb(30,48,252)"/><rect x="95.85" y="124.32" width="7.47" height="7.43" fill="rgb(95,112,246)"/><rect x="103.27" y="124.32" width="7.47" height="7.43" fill="rgb(248,246,252)"/><rect x="110.69" y="124.32" width="7.47" height="7.43" fill="rgb(62,82,249)"/><rect x="118.11" y="124.32" width="7.47" height="7.43" fill="rgb(30,48,252)"/><rect x="125.53" y="124.32" width="7.47" height="7.43" fill="rgb(255,112,148)"/><rect x="132.95" y="124.32" width="7.47" height="7.43" fill="rgb(150,160,248)"/><rect x="140.37" y="124.32" width="7.47" height="7.43" fill="rgb(95,112,246)"/><rect x="147.79" y="124.32" width="7.47" height="7.43" fill="rgb(30,48,252)"/><rect x="155.22" y="124.32" width="7.47" height="7.43" fill="rgb(62,82,249)"/><rect x="162.64" y="124.32" width="7.47" height="7.43" fill="rgb(212,215,252)"/><rect x="170.06" y="124.32" width="7.47" height="7.43" fill="rgb(30,48,252)"/><rect x="177.48" y="124.32" width="7.47" height="7.43" fill="rgb(30,48,252)"/><rect x="184.9" y="124.32" width="7.47" height="7.43" fill="rgb(188,194,250)"/><rect x="192.32" y="124.32" width="7.47" height="7.43" fill="rgb(30,48,252)"/><rect x="199.74" y="124.32" width="7.47" height="7.43" fill="rgb(150,160,248)"/><rect x="207.16" y="124.32" width="7.47" height="7.43" fill="rgb(62,82,249)"/><rect x="214.58" y="124.32" width="7.47" height="7.43" fill="rgb(255,112,148)"/><rect x="222.01" y="124.32" width="7.47" height="7.43" fill="rgb(30,48,252)"/><rect x="229.43" y="124.32" width="7.47" height="7.43" fill="rgb(30,48,252)"/><rect x="236.85" y="124.32" width="7.47" height="7.43" fill="rgb(30,48,252)"/><rect x="244.27" y="124.32" width="7.47" height="7.43" fill="rgb(62,82,249)"/><rect x="251.69" y="124.32" width="7.47" height="7.43" fill="rgb(255,190,208)"/><rect x="259.11" y="124.32" width="7.47" height="7.43" fill="rgb(248,8,36)"/><rect x="266.53" y="124.32" width="7.47" height="7.43" fill="rgb(255,112,148)"/><rect x="273.95" y="124.32" width="7.47" height="7.43" fill="rgb(150,160,248)"/><rect x="281.37" y="124.32" width="7.47" height="7.43" fill="rgb(95,112,246)"/><rect x="288.79" y="124.32" width="7.47" height="7.43" fill="rgb(30,48,252)"/><rect x="296.22" y="124.32" width="7.47" height="7.43" fill="rgb(255,190,208)"/><rect x="303.64" y="124.32" width="7.47" height="7.43" fill="rgb(30,48,252)"/><rect x="311.06" y="124.32" width="7.47" height="7.43" fill="rgb(248,246,252)"/><rect x="318.48" y="124.32" width="7.47" height="7.43" fill="rgb(212,215,252)"/><rect x="43.9" y="131.7" width="7.47" height="7.43" fill="rgb(150,160,248)"/><rect x="51.32" y="131.7" width="7.47" height="7.43" fill="rgb(188,194,250)"/><rect x="58.74" y="131.7" width="7.47" height="7.43" fill="rgb(30,48,252)"/><rect x="66.16" y="131.7" width="7.47" height="7.43" fill="rgb(30,48,252)"/><rect x="73.58" y="131.7" width="7.47" height="7.43" fill="rgb(248,45,78)"/><rect x="81.01" y="131.7" width="7.47" height="7.43" fill="rgb(95,112,246)"/><rect x="88.43" y="131.7" width="7.47" height="7.43" fill="rgb(30,48,252)"/><rect x="95.85" y="131.7" width="7.47" height="7.43" fill="rgb(95,112,246)"/><rect x="103.27" y="131.7" width="7.47" height="7.43" fill="rgb(255,232,238)"/><rect x="110.69" y="131.7" width="7.47" height="7.43" fill="rgb(62,82,249)"/><rect x="118.11" y="131.7" width="7.47" height="7.43" fill="rgb(30,48,252)"/><rect x="125.53" y="131.7" width="7.47" height="7.43" fill="rgb(255,232,238)"/><rect x="132.95" y="131.7" width="7.47" height="7.43" fill="rgb(95,112,246)"/><rect x="140.37" y="131.7" width="7.47" height="7.43" fill="rgb(95,112,246)"/><rect x="147.79" y="131.7" width="7.47" height="7.43" fill="rgb(30,48,252)"/><rect x="155.22" y="131.7" width="7.47" height="7.43" fill="rgb(62,82,249)"/><rect x="162.64" y="131.7" width="7.47" height="7.43" fill="rgb(255,232,238)"/><rect x="170.06" y="131.7" width="7.47" height="7.43" fill="rgb(62,82,249)"/><rect x="177.48" y="131.7" width="7.47" height="7.43" fill="rgb(30,48,252)"/><rect x="184.9" y="131.7" width="7.47" height="7.43" fill="rgb(150,160,248)"/><rect x="192.32" y="131.7" width="7.47" height="7.43" fill="rgb(30,48,252)"/><rect x="199.74" y="131.7" width="7.47" height="7.43" fill="rgb(150,160,248)"/><rect x="207.16" y="131.7" width="7.47" height="7.43" fill="rgb(30,48,252)"/><rect x="214.58" y="131.7" width="7.47" height="7.43" fill="rgb(255,112,148)"/><rect x="222.01" y="131.7" width="7.47" height="7.43" fill="rgb(30,48,252)"/><rect x="229.43" y="131.7" width="7.47" height="7.43" fill="rgb(30,48,252)"/><rect x="236.85" y="131.7" width="7.47" height="7.43" fill="rgb(30,48,252)"/><rect x="244.27" y="131.7" width="7.47" height="7.43" fill="rgb(62,82,249)"/><rect x="251.69" y="131.7" width="7.47" height="7.43" fill="rgb(255,232,238)"/><rect x="259.11" y="131.7" width="7.47" height="7.43" fill="rgb(248,8,36)"/><rect x="266.53" y="131.7" width="7.47" height="7.43" fill="rgb(248,8,36)"/><rect x="273.95" y="131.7" width="7.47" height="7.43" fill="rgb(150,160,248)"/><rect x="281.37" y="131.7" width="7.47" height="7.43" fill="rgb(62,82,249)"/><rect x="288.79" y="131.7" width="7.47" height="7.43" fill="rgb(62,82,249)"/><rect x="296.22" y="131.7" width="7.47" height="7.43" fill="rgb(255,112,148)"/><rect x="303.64" y="131.7" width="7.47" height="7.43" fill="rgb(212,215,252)"/><rect x="311.06" y="131.7" width="7.47" height="7.43" fill="rgb(188,194,250)"/><rect x="318.48" y="131.7" width="7.47" height="7.43" fill="rgb(212,215,252)"/><rect x="43.9" y="139.08" width="7.47" height="7.43" fill="rgb(95,112,246)"/><rect x="51.32" y="139.08" width="7.47" height="7.43" fill="rgb(188,194,250)"/><rect x="58.74" y="139.08" width="7.47" height="7.43" fill="rgb(30,48,252)"/><rect x="66.16" y="139.08" width="7.47" height="7.43" fill="rgb(30,48,252)"/><rect x="73.58" y="139.08" width="7.47" height="7.43" fill="rgb(248,45,78)"/><rect x="81.01" y="139.08" width="7.47" height="7.43" fill="rgb(62,82,249)"/><rect x="88.43" y="139.08" width="7.47" height="7.43" fill="rgb(30,48,252)"/><rect x="95.85" y="139.08" width="7.47" height="7.43" fill="rgb(62,82,249)"/><rect x="103.27" y="139.08" width="7.47" height="7.43" fill="rgb(255,112,148)"/><rect x="110.69" y="139.08" width="7.47" height="7.43" fill="rgb(95,112,246)"/><rect x="118.11" y="139.08" width="7.47" height="7.43" fill="rgb(95,112,246)"/><rect x="125.53" y="139.08" width="7.47" height="7.43" fill="rgb(255,148,176)"/><rect x="132.95" y="139.08" width="7.47" height="7.43" fill="rgb(150,160,248)"/><rect x="140.37" y="139.08" width="7.47" height="7.43" fill="rgb(62,82,249)"/><rect x="147.79" y="139.08" width="7.47" height="7.43" fill="rgb(30,48,252)"/><rect x="155.22" y="139.08" width="7.47" height="7.43" fill="rgb(62,82,249)"/><rect x="162.64" y="139.08" width="7.47" height="7.43" fill="rgb(248,246,252)"/><rect x="170.06" y="139.08" width="7.47" height="7.43" fill="rgb(62,82,249)"/><rect x="177.48" y="139.08" width="7.47" height="7.43" fill="rgb(30,48,252)"/><rect x="184.9" y="139.08" width="7.47" height="7.43" fill="rgb(150,160,248)"/><rect x="192.32" y="139.08" width="7.47" height="7.43" fill="rgb(30,48,252)"/><rect x="199.74" y="139.08" width="7.47" height="7.43" fill="rgb(248,246,252)"/><rect x="207.16" y="139.08" width="7.47" height="7.43" fill="rgb(30,48,252)"/><rect x="214.58" y="139.08" width="7.47" height="7.43" fill="rgb(255,112,148)"/><rect x="222.01" y="139.08" width="7.47" height="7.43" fill="rgb(30,48,252)"/><rect x="229.43" y="139.08" width="7.47" height="7.43" fill="rgb(30,48,252)"/><rect x="236.85" y="139.08" width="7.47" height="7.43" fill="rgb(30,48,252)"/><rect x="244.27" y="139.08" width="7.47" height="7.43" fill="rgb(95,112,246)"/><rect x="251.69" y="139.08" width="7.47" height="7.43" fill="rgb(255,232,238)"/><rect x="259.11" y="139.08" width="7.47" height="7.43" fill="rgb(248,8,36)"/><rect x="266.53" y="139.08" width="7.47" height="7.43" fill="rgb(248,8,36)"/><rect x="273.95" y="139.08" width="7.47" height="7.43" fill="rgb(150,160,248)"/><rect x="281.37" y="139.08" width="7.47" height="7.43" fill="rgb(62,82,249)"/><rect x="288.79" y="139.08" width="7.47" height="7.43" fill="rgb(62,82,249)"/><rect x="296.22" y="139.08" width="7.47" height="7.43" fill="rgb(255,112,148)"/><rect x="303.64" y="139.08" width="7.47" height="7.43" fill="rgb(212,215,252)"/><rect x="311.06" y="139.08" width="7.47" height="7.43" fill="rgb(248,246,252)"/><rect x="318.48" y="139.08" width="7.47" height="7.43" fill="rgb(248,246,252)"/><rect x="43.9" y="146.46" width="7.47" height="7.43" fill="rgb(30,48,252)"/><rect x="51.32" y="146.46" width="7.47" height="7.43" fill="rgb(95,112,246)"/><rect x="58.74" y="146.46" width="7.47" height="7.43" fill="rgb(30,48,252)"/><rect x="66.16" y="146.46" width="7.47" height="7.43" fill="rgb(62,82,249)"/><rect x="73.58" y="146.46" width="7.47" height="7.43" fill="rgb(255,190,208)"/><rect x="81.01" y="146.46" width="7.47" height="7.43" fill="rgb(62,82,249)"/><rect x="88.43" y="146.46" width="7.47" height="7.43" fill="rgb(30,48,252)"/><rect x="95.85" y="146.46" width="7.47" height="7.43" fill="rgb(95,112,246)"/><rect x="103.27" y="146.46" width="7.47" height="7.43" fill="rgb(212,215,252)"/><rect x="110.69" y="146.46" width="7.47" height="7.43" fill="rgb(212,215,252)"/><rect x="118.11" y="146.46" width="7.47" height="7.43" fill="rgb(30,48,252)"/><rect x="125.53" y="146.46" width="7.47" height="7.43" fill="rgb(255,148,176)"/><rect x="132.95" y="146.46" width="7.47" height="7.43" fill="rgb(95,112,246)"/><rect x="140.37" y="146.46" width="7.47" height="7.43" fill="rgb(95,112,246)"/><rect x="147.79" y="146.46" width="7.47" height="7.43" fill="rgb(30,48,252)"/><rect x="155.22" y="146.46" width="7.47" height="7.43" fill="rgb(30,48,252)"/><rect x="162.64" y="146.46" width="7.47" height="7.43" fill="rgb(212,215,252)"/><rect x="170.06" y="146.46" width="7.47" height="7.43" fill="rgb(30,48,252)"/><rect x="177.48" y="146.46" width="7.47" height="7.43" fill="rgb(30,48,252)"/><rect x="184.9" y="146.46" width="7.47" height="7.43" fill="rgb(95,112,246)"/><rect x="192.32" y="146.46" width="7.47" height="7.43" fill="rgb(30,48,252)"/><rect x="199.74" y="146.46" width="7.47" height="7.43" fill="rgb(95,112,246)"/><rect x="207.16" y="146.46" width="7.47" height="7.43" fill="rgb(62,82,249)"/><rect x="214.58" y="146.46" width="7.47" height="7.43" fill="rgb(255,112,148)"/><rect x="222.01" y="146.46" width="7.47" height="7.43" fill="rgb(30,48,252)"/><rect x="229.43" y="146.46" width="7.47" height="7.43" fill="rgb(30,48,252)"/><rect x="236.85" y="146.46" width="7.47" height="7.43" fill="rgb(30,48,252)"/><rect x="244.27" y="146.46" width="7.47" height="7.43" fill="rgb(62,82,249)"/><rect x="251.69" y="146.46" width="7.47" height="7.43" fill="rgb(188,194,250)"/><rect x="259.11" y="146.46" width="7.47" height="7.43" fill="rgb(248,8,36)"/><rect x="266.53" y="146.46" width="7.47" height="7.43" fill="rgb(248,45,78)"/><rect x="273.95" y="146.46" width="7.47" height="7.43" fill="rgb(150,160,248)"/><rect x="281.37" y="146.46" width="7.47" height="7.43" fill="rgb(212,215,252)"/><rect x="288.79" y="146.46" width="7.47" height="7.43" fill="rgb(30,48,252)"/><rect x="296.22" y="146.46" width="7.47" height="7.43" fill="rgb(255,148,176)"/><rect x="303.64" y="146.46" width="7.47" height="7.43" fill="rgb(212,215,252)"/><rect x="311.06" y="146.46" width="7.47" height="7.43" fill="rgb(150,160,248)"/><rect x="318.48" y="146.46" width="7.47" height="7.43" fill="rgb(30,48,252)"/><rect x="43.9" y="153.84" width="7.47" height="7.43" fill="rgb(30,48,252)"/><rect x="51.32" y="153.84" width="7.47" height="7.43" fill="rgb(62,82,249)"/><rect x="58.74" y="153.84" width="7.47" height="7.43" fill="rgb(30,48,252)"/><rect x="66.16" y="153.84" width="7.47" height="7.43" fill="rgb(30,48,252)"/><rect x="73.58" y="153.84" width="7.47" height="7.43" fill="rgb(255,112,148)"/><rect x="81.01" y="153.84" width="7.47" height="7.43" fill="rgb(95,112,246)"/><rect x="88.43" y="153.84" width="7.47" height="7.43" fill="rgb(30,48,252)"/><rect x="95.85" y="153.84" width="7.47" height="7.43" fill="rgb(62,82,249)"/><rect x="103.27" y="153.84" width="7.47" height="7.43" fill="rgb(212,215,252)"/><rect x="110.69" y="153.84" width="7.47" height="7.43" fill="rgb(212,215,252)"/><rect x="118.11" y="153.84" width="7.47" height="7.43" fill="rgb(30,48,252)"/><rect x="125.53" y="153.84" width="7.47" height="7.43" fill="rgb(255,148,176)"/><rect x="132.95" y="153.84" width="7.47" height="7.43" fill="rgb(95,112,246)"/><rect x="140.37" y="153.84" width="7.47" height="7.43" fill="rgb(150,160,248)"/><rect x="147.79" y="153.84" width="7.47" height="7.43" fill="rgb(30,48,252)"/><rect x="155.22" y="153.84" width="7.47" height="7.43" fill="rgb(30,48,252)"/><rect x="162.64" y="153.84" width="7.47" height="7.43" fill="rgb(212,215,252)"/><rect x="170.06" y="153.84" width="7.47" height="7.43" fill="rgb(30,48,252)"/><rect x="177.48" y="153.84" width="7.47" height="7.43" fill="rgb(30,48,252)"/><rect x="184.9" y="153.84" width="7.47" height="7.43" fill="rgb(150,160,248)"/><rect x="192.32" y="153.84" width="7.47" height="7.43" fill="rgb(30,48,252)"/><rect x="199.74" y="153.84" width="7.47" height="7.43" fill="rgb(95,112,246)"/><rect x="207.16" y="153.84" width="7.47" height="7.43" fill="rgb(62,82,249)"/><rect x="214.58" y="153.84" width="7.47" height="7.43" fill="rgb(255,112,148)"/><rect x="222.01" y="153.84" width="7.47" height="7.43" fill="rgb(30,48,252)"/><rect x="229.43" y="153.84" width="7.47" height="7.43" fill="rgb(30,48,252)"/><rect x="236.85" y="153.84" width="7.47" height="7.43" fill="rgb(30,48,252)"/><rect x="244.27" y="153.84" width="7.47" height="7.43" fill="rgb(62,82,249)"/><rect x="251.69" y="153.84" width="7.47" height="7.43" fill="rgb(212,215,252)"/><rect x="259.11" y="153.84" width="7.47" height="7.43" fill="rgb(248,8,36)"/><rect x="266.53" y="153.84" width="7.47" height="7.43" fill="rgb(248,45,78)"/><rect x="273.95" y="153.84" width="7.47" height="7.43" fill="rgb(150,160,248)"/><rect x="281.37" y="153.84" width="7.47" height="7.43" fill="rgb(212,215,252)"/><rect x="288.79" y="153.84" width="7.47" height="7.43" fill="rgb(30,48,252)"/><rect x="296.22" y="153.84" width="7.47" height="7.43" fill="rgb(255,148,176)"/><rect x="303.64" y="153.84" width="7.47" height="7.43" fill="rgb(212,215,252)"/><rect x="311.06" y="153.84" width="7.47" height="7.43" fill="rgb(150,160,248)"/><rect x="318.48" y="153.84" width="7.47" height="7.43" fill="rgb(30,48,252)"/><rect x="43.9" y="161.22" width="7.47" height="7.43" fill="rgb(30,48,252)"/><rect x="51.32" y="161.22" width="7.47" height="7.43" fill="rgb(62,82,249)"/><rect x="58.74" y="161.22" width="7.47" height="7.43" fill="rgb(62,82,249)"/><rect x="66.16" y="161.22" width="7.47" height="7.43" fill="rgb(150,160,248)"/><rect x="73.58" y="161.22" width="7.47" height="7.43" fill="rgb(248,246,252)"/><rect x="81.01" y="161.22" width="7.47" height="7.43" fill="rgb(95,112,246)"/><rect x="88.43" y="161.22" width="7.47" height="7.43" fill="rgb(30,48,252)"/><rect x="95.85" y="161.22" width="7.47" height="7.43" fill="rgb(150,160,248)"/><rect x="103.27" y="161.22" width="7.47" height="7.43" fill="rgb(255,190,208)"/><rect x="110.69" y="161.22" width="7.47" height="7.43" fill="rgb(248,8,36)"/><rect x="118.11" y="161.22" width="7.47" height="7.43" fill="rgb(95,112,246)"/><rect x="125.53" y="161.22" width="7.47" height="7.43" fill="rgb(248,8,36)"/><rect x="132.95" y="161.22" width="7.47" height="7.43" fill="rgb(95,112,246)"/><rect x="140.37" y="161.22" width="7.47" height="7.43" fill="rgb(248,246,252)"/><rect x="147.79" y="161.22" width="7.47" height="7.43" fill="rgb(30,48,252)"/><rect x="155.22" y="161.22" width="7.47" height="7.43" fill="rgb(30,48,252)"/><rect x="162.64" y="161.22" width="7.47" height="7.43" fill="rgb(248,246,252)"/><rect x="170.06" y="161.22" width="7.47" height="7.43" fill="rgb(62,82,249)"/><rect x="177.48" y="161.22" width="7.47" height="7.43" fill="rgb(62,82,249)"/><rect x="184.9" y="161.22" width="7.47" height="7.43" fill="rgb(95,112,246)"/><rect x="192.32" y="161.22" width="7.47" height="7.43" fill="rgb(30,48,252)"/><rect x="199.74" y="161.22" width="7.47" height="7.43" fill="rgb(150,160,248)"/><rect x="207.16" y="161.22" width="7.47" height="7.43" fill="rgb(30,48,252)"/><rect x="214.58" y="161.22" width="7.47" height="7.43" fill="rgb(248,45,78)"/><rect x="222.01" y="161.22" width="7.47" height="7.43" fill="rgb(30,48,252)"/><rect x="229.43" y="161.22" width="7.47" height="7.43" fill="rgb(30,48,252)"/><rect x="236.85" y="161.22" width="7.47" height="7.43" fill="rgb(30,48,252)"/><rect x="244.27" y="161.22" width="7.47" height="7.43" fill="rgb(62,82,249)"/><rect x="251.69" y="161.22" width="7.47" height="7.43" fill="rgb(212,215,252)"/><rect x="259.11" y="161.22" width="7.47" height="7.43" fill="rgb(248,8,36)"/><rect x="266.53" y="161.22" width="7.47" height="7.43" fill="rgb(248,8,36)"/><rect x="273.95" y="161.22" width="7.47" height="7.43" fill="rgb(95,112,246)"/><rect x="281.37" y="161.22" width="7.47" height="7.43" fill="rgb(30,48,252)"/><rect x="288.79" y="161.22" width="7.47" height="7.43" fill="rgb(62,82,249)"/><rect x="296.22" y="161.22" width="7.47" height="7.43" fill="rgb(255,112,148)"/><rect x="303.64" y="161.22" width="7.47" height="7.43" fill="rgb(248,246,252)"/><rect x="311.06" y="161.22" width="7.47" height="7.43" fill="rgb(150,160,248)"/><rect x="318.48" y="161.22" width="7.47" height="7.43" fill="rgb(62,82,249)"/><path d="M51.32 43.15V168.6M58.74 43.15V168.6M66.16 43.15V168.6M73.58 43.15V168.6M81.01 43.15V168.6M88.43 43.15V168.6M95.85 43.15V168.6M103.27 43.15V168.6M110.69 43.15V168.6M118.11 43.15V168.6M125.53 43.15V168.6M132.95 43.15V168.6M140.37 43.15V168.6M147.79 43.15V168.6M155.22 43.15V168.6M162.64 43.15V168.6M170.06 43.15V168.6M177.48 43.15V168.6M184.9 43.15V168.6M192.32 43.15V168.6M199.74 43.15V168.6M207.16 43.15V168.6M214.58 43.15V168.6M222.01 43.15V168.6M229.43 43.15V168.6M236.85 43.15V168.6M244.27 43.15V168.6M251.69 43.15V168.6M259.11 43.15V168.6M266.53 43.15V168.6M273.95 43.15V168.6M281.37 43.15V168.6M288.79 43.15V168.6M296.22 43.15V168.6M303.64 43.15V168.6M311.06 43.15V168.6M318.48 43.15V168.6M43.9 50.53H325.9M43.9 57.91H325.9M43.9 65.29H325.9M43.9 72.67H325.9M43.9 80.05H325.9M43.9 87.43H325.9M43.9 94.81H325.9M43.9 102.19H325.9M43.9 109.56H325.9M43.9 116.94H325.9M43.9 124.32H325.9M43.9 131.7H325.9M43.9 139.08H325.9M43.9 146.46H325.9M43.9 153.84H325.9M43.9 161.22H325.9" stroke="#fff" stroke-opacity="0.45" stroke-width="0.9" fill="none"/><text class="k" transform="translate(49.61,41.6) rotate(-90)" font-size="6">TRBV2</text><text class="k" transform="translate(57.03,41.6) rotate(-90)" font-size="6">TRBV4–1</text><text class="k" transform="translate(64.45,41.6) rotate(-90)" font-size="6">TRBV4–2</text><text class="k" transform="translate(71.87,41.6) rotate(-90)" font-size="6">TRBV4–3</text><text class="k" transform="translate(79.29,41.6) rotate(-90)" font-size="6">TRBV5–1</text><text class="k" transform="translate(86.72,41.6) rotate(-90)" font-size="6">TRBV5–4</text><text class="k" transform="translate(94.14,41.6) rotate(-90)" font-size="6">TRBV5–5</text><text class="k" transform="translate(101.56,41.6) rotate(-90)" font-size="6">TRBV5–6</text><text class="k" transform="translate(108.98,41.6) rotate(-90)" font-size="6">TRBV6–1</text><text class="k" transform="translate(116.4,41.6) rotate(-90)" font-size="6">TRBV6–2/6–3</text><text class="k" transform="translate(123.82,41.6) rotate(-90)" font-size="6">TRBV6–4</text><text class="k" transform="translate(131.24,41.6) rotate(-90)" font-size="6">TRBV6–5</text><text class="k" transform="translate(138.66,41.6) rotate(-90)" font-size="6">TRBV6–6</text><text class="k" transform="translate(146.08,41.6) rotate(-90)" font-size="6">TRBV7–2</text><text class="k" transform="translate(153.51,41.6) rotate(-90)" font-size="6">TRBV7–6</text><text class="k" transform="translate(160.93,41.6) rotate(-90)" font-size="6">TRBV7–8</text><text class="k" transform="translate(168.35,41.6) rotate(-90)" font-size="6">TRBV7–9</text><text class="k" transform="translate(175.77,41.6) rotate(-90)" font-size="6">TRBV10–1</text><text class="k" transform="translate(183.19,41.6) rotate(-90)" font-size="6">TRBV10–2</text><text class="k" transform="translate(190.61,41.6) rotate(-90)" font-size="6">TRBV10–3</text><text class="k" transform="translate(198.03,41.6) rotate(-90)" font-size="6">TRBV11–1</text><text class="k" transform="translate(205.45,41.6) rotate(-90)" font-size="6">TRBV11–2</text><text class="k" transform="translate(212.87,41.6) rotate(-90)" font-size="6">TRBV11–3</text><text class="k" transform="translate(220.29,41.6) rotate(-90)" font-size="6">TRBV12–3</text><text class="k" transform="translate(227.72,41.6) rotate(-90)" font-size="6">TRBV12–5</text><text class="k" transform="translate(235.14,41.6) rotate(-90)" font-size="6">TRBV13</text><text class="k" transform="translate(242.56,41.6) rotate(-90)" font-size="6">TRBV14</text><text class="k" transform="translate(249.98,41.6) rotate(-90)" font-size="6">TRBV15</text><text class="k" transform="translate(257.4,41.6) rotate(-90)" font-size="6">TRBV18</text><text class="k" transform="translate(264.82,41.6) rotate(-90)" font-size="6">TRBV19</text><text class="k" transform="translate(272.24,41.6) rotate(-90)" font-size="6">TRBV20–1</text><text class="k" transform="translate(279.66,41.6) rotate(-90)" font-size="6">TRBV21–1</text><text class="k" transform="translate(287.08,41.6) rotate(-90)" font-size="6">TRBV24–1</text><text class="k" transform="translate(294.51,41.6) rotate(-90)" font-size="6">TRBV25–1</text><text class="k" transform="translate(301.93,41.6) rotate(-90)" font-size="6">TRBV27</text><text class="k" transform="translate(309.35,41.6) rotate(-90)" font-size="6">TRBV28</text><text class="k" transform="translate(316.77,41.6) rotate(-90)" font-size="6">TRBV29–1</text><text class="k" transform="translate(324.19,41.6) rotate(-90)" font-size="6">TRBV30</text><text x="37.7" y="41.7" font-size="7" fill="#222">id</text><text class="k" x="327.0" y="41.5" font-size="6.6">id</text><text x="327.8" y="49.04" font-size="6.3" fill="#111">402U–30mo (9438)</text><text x="327.8" y="56.42" font-size="6.3" fill="#111">404U–21m (14512)</text><text x="327.8" y="63.8" font-size="6.3" fill="#111">404U–9yr (13773)</text><text x="327.8" y="71.18" font-size="6.3" fill="#111">402U–10yr (6281)</text><text x="327.8" y="78.56" font-size="6.3" fill="#111">407N–9yr (9464)</text><text x="327.8" y="85.94" font-size="6.3" fill="#111">407N–21mo (5614)</text><text x="327.8" y="93.32" font-size="6.3" fill="#111">409U–8yr (8938)</text><text x="327.8" y="100.7" font-size="6.3" fill="#111">401U–11yr (5813)</text><text x="327.8" y="108.08" font-size="6.3" fill="#111">401U–36mo (15807)</text><text x="327.8" y="115.45" font-size="6.3" fill="#111">405U–8yr (17136)</text><text x="327.8" y="122.83" font-size="6.3" fill="#111">405U–30mo (14303)</text><text x="327.8" y="130.21" font-size="6.3" fill="#111">403N–11yr (22641)</text><text x="327.8" y="137.59" font-size="6.3" fill="#111">406N–30mo (10817)</text><text x="327.8" y="144.97" font-size="6.3" fill="#111">406N–9yr (13554)</text><text x="327.8" y="152.35" font-size="6.3" fill="#111">410U–21mo (13811)</text><text x="327.8" y="159.73" font-size="6.3" fill="#111">410U–7yr (16869)</text><text x="327.8" y="167.11" font-size="6.3" fill="#111">408U–9yr (14148)</text><path d="M19.5 102.5V164.91M19.5 164.91H43.3M19.5 102.5H23.5M23.5 69.3V128.3M23.5 69.3H31.4M23.5 128.3H29.2M31.4 65.9V91.12M31.4 65.9H34.4M31.4 91.12H43.3M34.4 54.3V76.9M34.4 54.3H39.4M34.4 76.9H38M39.4 46.84V58M39.4 46.84H43.3M39.4 58H41.6M41.6 54.22V61.6M41.6 54.22H43.3M41.6 61.6H43.3M38 72.8V83.74M38 72.8H40.2M38 83.74H43.3M40.2 68.98V76.36M40.2 68.98H43.3M40.2 76.36H43.3M29.2 110.2V136.4M29.2 110.2H39.2M29.2 136.4H30.4M39.2 98.5V113.4M39.2 98.5H43.3M39.2 113.4H41.8M41.8 105.88V120.63M41.8 105.88H43.3M41.8 113.25H43.3M41.8 120.63H43.3M30.4 135.4V154.3M30.4 135.4H35.8M30.4 154.3H42.4M35.8 128.01V139.3M35.8 128.01H43.3M35.8 139.3H41.4M41.4 135.39V142.77M41.4 135.39H43.3M41.4 142.77H43.3M42.4 150.15V157.53M42.4 150.15H43.3M42.4 157.53H43.3" stroke="#000" stroke-width="1.05" fill="none" stroke-linecap="square"/><text x="6.8" y="194.9" font-size="10.8" font-weight="bold" fill="#000" stroke="#000" stroke-width="0.25">B</text><circle cx="49.5" cy="221.4" r="22.3" fill="#e8879b"/><circle cx="83.4" cy="221.5" r="13.4" fill="#aff996"/><clipPath id="cp0"><circle cx="49.5" cy="221.4" r="22.3"/></clipPath><circle cx="83.4" cy="221.5" r="13.4" fill="#f7dcc0" clip-path="url(#cp0)"/><circle cx="136" cy="221" r="21.4" fill="#e8879b"/><circle cx="170.9" cy="221" r="17.1" fill="#aff996"/><clipPath id="cp1"><circle cx="136" cy="221" r="21.4"/></clipPath><circle cx="170.9" cy="221" r="17.1" fill="#f7dcc0" clip-path="url(#cp1)"/><circle cx="223.5" cy="221.2" r="20.8" fill="#e8879b"/><circle cx="262.4" cy="221.1" r="20.9" fill="#aff996"/><clipPath id="cp2"><circle cx="223.5" cy="221.2" r="20.8"/></clipPath><circle cx="262.4" cy="221.1" r="20.9" fill="#f7dcc0" clip-path="url(#cp2)"/><circle cx="312.5" cy="220.6" r="19.4" fill="#e8879b"/><circle cx="350" cy="221" r="21.5" fill="#aff996"/><clipPath id="cp3"><circle cx="312.5" cy="220.6" r="19.4"/></clipPath><circle cx="350" cy="221" r="21.5" fill="#f7dcc0" clip-path="url(#cp3)"/><circle cx="88.4" cy="287.2" r="18.8" fill="#e8879b"/><circle cx="125" cy="287.3" r="21.4" fill="#aff996"/><clipPath id="cp4"><circle cx="88.4" cy="287.2" r="18.8"/></clipPath><circle cx="125" cy="287.3" r="21.4" fill="#f7dcc0" clip-path="url(#cp4)"/><circle cx="177.5" cy="287.9" r="16.4" fill="#e8879b"/><circle cx="212" cy="287.5" r="21.7" fill="#aff996"/><clipPath id="cp5"><circle cx="177.5" cy="287.9" r="16.4"/></clipPath><circle cx="212" cy="287.5" r="21.7" fill="#f7dcc0" clip-path="url(#cp5)"/><circle cx="267.3" cy="287.2" r="19.5" fill="#e8879b"/><circle cx="305.3" cy="287.1" r="21.6" fill="#aff996"/><clipPath id="cp6"><circle cx="267.3" cy="287.2" r="19.5"/></clipPath><circle cx="305.3" cy="287.1" r="21.6" fill="#f7dcc0" clip-path="url(#cp6)"/><rect x="17" y="189.9" width="90" height="66.3" fill="none" stroke="#000" stroke-width="1.4"/><rect x="107.2" y="189.9" width="90" height="66.3" fill="none" stroke="#000" stroke-width="1.4"/><rect x="197.3" y="189.9" width="90" height="66.3" fill="none" stroke="#000" stroke-width="1.4"/><rect x="287.7" y="189.9" width="90" height="66.3" fill="none" stroke="#000" stroke-width="1.4"/><rect x="62.1" y="256.2" width="90" height="66" fill="none" stroke="#000" stroke-width="1.4"/><rect x="152.3" y="256.2" width="90" height="66" fill="none" stroke="#000" stroke-width="1.4"/><rect x="242.8" y="256.2" width="90" height="66" fill="none" stroke="#000" stroke-width="1.4"/><text class="k2" x="19.9" y="198.7" font-size="8.1" textLength="13.0" lengthAdjust="spacingAndGlyphs">401</text><text class="k" x="50" y="223.7" font-size="6.3" text-anchor="middle">15590</text><text class="k" x="69.6" y="223.7" font-size="6.3" text-anchor="middle">217</text><text class="k" x="87.6" y="223.7" font-size="6.3" text-anchor="middle">5596</text><text class="k2" x="35.6" y="251.2" font-size="7.9">36m</text><text class="k2" x="82" y="242.6" font-size="7.9">11yr</text><text class="k2" x="110.1" y="198.7" font-size="8.1" textLength="13.0" lengthAdjust="spacingAndGlyphs">402</text><text class="k" x="134.8" y="223.7" font-size="6.3" text-anchor="middle">9003</text><text class="k" x="156" y="223.7" font-size="6.3" text-anchor="middle">435</text><text class="k" x="174.8" y="223.7" font-size="6.3" text-anchor="middle">5846</text><text class="k2" x="122.7" y="251.2" font-size="7.9">30m</text><text class="k2" x="169" y="245.8" font-size="7.9">10yr</text><text class="k2" x="200.2" y="198.7" font-size="8.1" textLength="13.0" lengthAdjust="spacingAndGlyphs">404</text><text class="k" x="223.2" y="223.7" font-size="6.3" text-anchor="middle">14128</text><text class="k" x="243.6" y="223.7" font-size="6.3" text-anchor="middle">384</text><text class="k" x="263" y="223.7" font-size="6.3" text-anchor="middle">13389</text><text class="k2" x="208.6" y="251.2" font-size="7.9">21m</text><text class="k2" x="262.7" y="249.2" font-size="7.9">9yr</text><text class="k2" x="290.6" y="198.7" font-size="8.1" textLength="13.0" lengthAdjust="spacingAndGlyphs">405</text><text class="k" x="310.5" y="223.7" font-size="6.3" text-anchor="middle">13625</text><text class="k" x="331.3" y="223.7" font-size="6.3" text-anchor="middle">678</text><text class="k" x="350.2" y="223.7" font-size="6.3" text-anchor="middle">16458</text><text class="k2" x="298.6" y="248.3" font-size="7.9">30m</text><text class="k2" x="350" y="249.2" font-size="7.9">8yr</text><text class="k2" x="65" y="265.3" font-size="8.1" textLength="13.0" lengthAdjust="spacingAndGlyphs">406</text><text class="k" x="86.3" y="289.3" font-size="6.3" text-anchor="middle">10138</text><text class="k" x="105.8" y="289.3" font-size="6.3" text-anchor="middle">679</text><text class="k" x="124.7" y="289.3" font-size="6.3" text-anchor="middle">12875</text><text class="k2" x="75" y="314.2" font-size="7.9">30m</text><text class="k2" x="124.6" y="316.4" font-size="7.9">9yr</text><text class="k2" x="155.2" y="265.3" font-size="8.1" textLength="13.0" lengthAdjust="spacingAndGlyphs">407</text><text class="k" x="176.2" y="289.3" font-size="6.3" text-anchor="middle">5221</text><text class="k" x="193" y="289.3" font-size="6.3" text-anchor="middle">393</text><text class="k" x="211.5" y="289.3" font-size="6.3" text-anchor="middle">9071</text><text class="k2" x="163.9" y="312.3" font-size="7.9">21m</text><text class="k2" x="211.9" y="316" font-size="7.9">9yr</text><text class="k2" x="245.7" y="265.3" font-size="8.1" textLength="13.0" lengthAdjust="spacingAndGlyphs">410</text><text class="k" x="266.1" y="289.3" font-size="6.3" text-anchor="middle">13210</text><text class="k" x="285.6" y="289.3" font-size="6.3" text-anchor="middle">601</text><text class="k" x="307.3" y="289.3" font-size="6.3" text-anchor="middle">16268</text><text class="k2" x="253.9" y="314.2" font-size="7.9">21m</text><text class="k2" x="304.8" y="316.4" font-size="7.9">7yr</text><text x="390.8" y="14.2" font-size="11.2" font-weight="bold" fill="#000" stroke="#000" stroke-width="0.25">C</text><rect x="423.2" y="4.67" width="30.8" height="4.08" fill="rgb(252,2,8)"/><rect x="454" y="4.67" width="30.6" height="4.08" fill="rgb(252,2,8)"/><rect x="423.2" y="8.7" width="30.8" height="4.08" fill="rgb(252,2,8)"/><rect x="454" y="8.7" width="30.6" height="4.08" fill="rgb(252,2,8)"/><rect x="423.2" y="12.73" width="30.8" height="4.08" fill="rgb(252,2,8)"/><rect x="454" y="12.73" width="30.6" height="4.08" fill="rgb(252,2,8)"/><rect x="423.2" y="16.77" width="30.8" height="4.08" fill="rgb(252,2,8)"/><rect x="454" y="16.77" width="30.6" height="4.08" fill="rgb(252,2,8)"/><rect x="423.2" y="20.8" width="30.8" height="4.08" fill="rgb(252,2,8)"/><rect x="454" y="20.8" width="30.6" height="4.08" fill="rgb(252,2,8)"/><rect x="423.2" y="24.84" width="30.8" height="4.08" fill="rgb(252,2,8)"/><rect x="454" y="24.84" width="30.6" height="4.08" fill="rgb(252,2,8)"/><rect x="423.2" y="28.88" width="30.8" height="4.08" fill="rgb(252,2,8)"/><rect x="454" y="28.88" width="30.6" height="4.08" fill="rgb(252,2,8)"/><rect x="423.2" y="32.91" width="30.8" height="4.08" fill="rgb(252,2,8)"/><rect x="454" y="32.91" width="30.6" height="4.08" fill="rgb(252,2,8)"/><rect x="423.2" y="36.95" width="30.8" height="4.08" fill="rgb(252,2,8)"/><rect x="454" y="36.95" width="30.6" height="4.08" fill="rgb(238,22,62)"/><rect x="423.2" y="40.98" width="30.8" height="4.08" fill="rgb(238,22,62)"/><rect x="454" y="40.98" width="30.6" height="4.08" fill="rgb(252,2,8)"/><rect x="423.2" y="45.02" width="30.8" height="4.08" fill="rgb(238,22,62)"/><rect x="454" y="45.02" width="30.6" height="4.08" fill="rgb(250,12,40)"/><rect x="423.2" y="49.05" width="30.8" height="4.08" fill="rgb(244,100,165)"/><rect x="454" y="49.05" width="30.6" height="4.08" fill="rgb(252,2,8)"/><rect x="423.2" y="53.09" width="30.8" height="4.08" fill="rgb(238,22,62)"/><rect x="454" y="53.09" width="30.6" height="4.08" fill="rgb(244,100,165)"/><rect x="423.2" y="57.12" width="30.8" height="4.08" fill="rgb(238,22,62)"/><rect x="454" y="57.12" width="30.6" height="4.08" fill="rgb(244,100,165)"/><rect x="423.2" y="61.16" width="30.8" height="4.08" fill="rgb(244,100,165)"/><rect x="454" y="61.16" width="30.6" height="4.08" fill="rgb(252,2,8)"/><rect x="423.2" y="65.19" width="30.8" height="4.08" fill="rgb(244,100,165)"/><rect x="454" y="65.19" width="30.6" height="4.08" fill="rgb(252,2,8)"/><rect x="423.2" y="69.23" width="30.8" height="4.08" fill="rgb(244,100,165)"/><rect x="454" y="69.23" width="30.6" height="4.08" fill="rgb(252,2,8)"/><rect x="423.2" y="73.26" width="30.8" height="4.08" fill="rgb(238,22,62)"/><rect x="454" y="73.26" width="30.6" height="4.08" fill="rgb(244,48,96)"/><rect x="423.2" y="77.3" width="30.8" height="4.08" fill="rgb(244,48,96)"/><rect x="454" y="77.3" width="30.6" height="4.08" fill="rgb(244,48,96)"/><rect x="423.2" y="81.33" width="30.8" height="4.08" fill="rgb(244,48,96)"/><rect x="454" y="81.33" width="30.6" height="4.08" fill="rgb(244,48,96)"/><rect x="423.2" y="85.37" width="30.8" height="4.08" fill="rgb(244,48,96)"/><rect x="454" y="85.37" width="30.6" height="4.08" fill="rgb(244,100,165)"/><rect x="423.2" y="89.4" width="30.8" height="4.08" fill="rgb(244,48,96)"/><rect x="454" y="89.4" width="30.6" height="4.08" fill="rgb(244,100,165)"/><rect x="423.2" y="93.44" width="30.8" height="4.08" fill="rgb(252,2,8)"/><rect x="454" y="93.44" width="30.6" height="4.08" fill="rgb(250,165,212)"/><rect x="423.2" y="97.47" width="30.8" height="4.08" fill="rgb(244,100,165)"/><rect x="454" y="97.47" width="30.6" height="4.08" fill="rgb(238,22,62)"/><rect x="423.2" y="101.51" width="30.8" height="4.08" fill="rgb(250,165,212)"/><rect x="454" y="101.51" width="30.6" height="4.08" fill="rgb(238,22,62)"/><rect x="423.2" y="105.54" width="30.8" height="4.08" fill="rgb(250,165,212)"/><rect x="454" y="105.54" width="30.6" height="4.08" fill="rgb(238,22,62)"/><rect x="423.2" y="109.58" width="30.8" height="4.08" fill="rgb(250,165,212)"/><rect x="454" y="109.58" width="30.6" height="4.08" fill="rgb(238,22,62)"/><rect x="423.2" y="113.61" width="30.8" height="4.08" fill="rgb(252,2,8)"/><rect x="454" y="113.61" width="30.6" height="4.08" fill="rgb(253,226,242)"/><rect x="423.2" y="117.65" width="30.8" height="4.08" fill="rgb(238,22,62)"/><rect x="454" y="117.65" width="30.6" height="4.08" fill="rgb(251,198,226)"/><rect x="423.2" y="121.68" width="30.8" height="4.08" fill="rgb(252,2,8)"/><rect x="454" y="121.68" width="30.6" height="4.08" fill="rgb(251,198,226)"/><rect x="423.2" y="125.72" width="30.8" height="4.08" fill="rgb(238,22,62)"/><rect x="454" y="125.72" width="30.6" height="4.08" fill="rgb(251,198,226)"/><rect x="423.2" y="129.75" width="30.8" height="4.08" fill="rgb(238,22,62)"/><rect x="454" y="129.75" width="30.6" height="4.08" fill="rgb(251,198,226)"/><rect x="423.2" y="133.78" width="30.8" height="4.08" fill="rgb(238,22,62)"/><rect x="454" y="133.78" width="30.6" height="4.08" fill="rgb(251,198,226)"/><rect x="423.2" y="137.82" width="30.8" height="4.08" fill="rgb(250,165,212)"/><rect x="454" y="137.82" width="30.6" height="4.08" fill="rgb(244,100,165)"/><rect x="423.2" y="141.85" width="30.8" height="4.08" fill="rgb(253,226,242)"/><rect x="454" y="141.85" width="30.6" height="4.08" fill="rgb(252,2,8)"/><rect x="423.2" y="145.89" width="30.8" height="4.08" fill="rgb(250,165,212)"/><rect x="454" y="145.89" width="30.6" height="4.08" fill="rgb(244,100,165)"/><rect x="423.2" y="149.92" width="30.8" height="4.08" fill="rgb(238,22,62)"/><rect x="454" y="149.92" width="30.6" height="4.08" fill="rgb(253,226,242)"/><rect x="423.2" y="153.96" width="30.8" height="4.08" fill="rgb(238,22,62)"/><rect x="454" y="153.96" width="30.6" height="4.08" fill="rgb(253,226,242)"/><rect x="423.2" y="158" width="30.8" height="4.08" fill="rgb(244,100,165)"/><rect x="454" y="158" width="30.6" height="4.08" fill="rgb(253,226,242)"/><rect x="423.2" y="162.03" width="30.8" height="4.08" fill="rgb(253,226,242)"/><rect x="454" y="162.03" width="30.6" height="4.08" fill="rgb(250,165,212)"/><rect x="423.2" y="166.06" width="30.8" height="4.08" fill="rgb(253,226,242)"/><rect x="454" y="166.06" width="30.6" height="4.08" fill="rgb(250,165,212)"/><rect x="423.2" y="170.1" width="30.8" height="4.08" fill="rgb(252,2,8)"/><rect x="454" y="170.1" width="30.6" height="4.08" fill="rgb(160,180,180)"/><rect x="423.2" y="174.13" width="30.8" height="4.08" fill="rgb(253,226,242)"/><rect x="454" y="174.13" width="30.6" height="4.08" fill="rgb(250,165,212)"/><rect x="423.2" y="178.17" width="30.8" height="4.08" fill="rgb(253,226,242)"/><rect x="454" y="178.17" width="30.6" height="4.08" fill="rgb(250,165,212)"/><rect x="423.2" y="182.21" width="30.8" height="4.08" fill="rgb(244,48,96)"/><rect x="454" y="182.21" width="30.6" height="4.08" fill="rgb(205,218,216)"/><rect x="423.2" y="186.24" width="30.8" height="4.08" fill="rgb(252,2,8)"/><rect x="454" y="186.24" width="30.6" height="4.08" fill="rgb(22,42,42)"/><rect x="423.2" y="190.28" width="30.8" height="4.08" fill="rgb(253,226,242)"/><rect x="454" y="190.28" width="30.6" height="4.08" fill="rgb(252,252,252)"/><rect x="423.2" y="194.31" width="30.8" height="4.08" fill="rgb(205,218,216)"/><rect x="454" y="194.31" width="30.6" height="4.08" fill="rgb(250,165,212)"/><rect x="423.2" y="198.34" width="30.8" height="4.08" fill="rgb(205,218,216)"/><rect x="454" y="198.34" width="30.6" height="4.08" fill="rgb(244,100,165)"/><rect x="423.2" y="202.38" width="30.8" height="4.08" fill="rgb(244,100,165)"/><rect x="454" y="202.38" width="30.6" height="4.08" fill="rgb(172,188,186)"/><rect x="423.2" y="206.41" width="30.8" height="4.08" fill="rgb(250,165,212)"/><rect x="454" y="206.41" width="30.6" height="4.08" fill="rgb(232,240,238)"/><rect x="423.2" y="210.45" width="30.8" height="4.08" fill="rgb(244,48,96)"/><rect x="454" y="210.45" width="30.6" height="4.08" fill="rgb(68,92,92)"/><rect x="423.2" y="214.48" width="30.8" height="4.08" fill="rgb(252,2,8)"/><rect x="454" y="214.48" width="30.6" height="4.08" fill="rgb(2,4,4)"/><rect x="423.2" y="218.52" width="30.8" height="4.08" fill="rgb(2,4,4)"/><rect x="454" y="218.52" width="30.6" height="4.08" fill="rgb(244,100,165)"/><rect x="423.2" y="222.56" width="30.8" height="4.08" fill="rgb(2,4,4)"/><rect x="454" y="222.56" width="30.6" height="4.08" fill="rgb(244,100,165)"/><rect x="423.2" y="226.59" width="30.8" height="4.08" fill="rgb(252,252,252)"/><rect x="454" y="226.59" width="30.6" height="4.08" fill="rgb(205,218,216)"/><rect x="423.2" y="230.62" width="30.8" height="4.08" fill="rgb(238,22,62)"/><rect x="454" y="230.62" width="30.6" height="4.08" fill="rgb(2,4,4)"/><rect x="423.2" y="234.66" width="30.8" height="4.08" fill="rgb(251,198,226)"/><rect x="454" y="234.66" width="30.6" height="4.08" fill="rgb(68,92,92)"/><rect x="423.2" y="238.69" width="30.8" height="4.08" fill="rgb(2,4,4)"/><rect x="454" y="238.69" width="30.6" height="4.08" fill="rgb(250,165,212)"/><rect x="423.2" y="242.73" width="30.8" height="4.08" fill="rgb(2,4,4)"/><rect x="454" y="242.73" width="30.6" height="4.08" fill="rgb(244,100,165)"/><rect x="423.2" y="246.77" width="30.8" height="4.08" fill="rgb(247,135,195)"/><rect x="454" y="246.77" width="30.6" height="4.08" fill="rgb(2,4,4)"/><rect x="423.2" y="250.8" width="30.8" height="4.08" fill="rgb(253,226,242)"/><rect x="454" y="250.8" width="30.6" height="4.08" fill="rgb(2,4,4)"/><rect x="423.2" y="254.84" width="30.8" height="4.08" fill="rgb(244,100,165)"/><rect x="454" y="254.84" width="30.6" height="4.08" fill="rgb(2,4,4)"/><rect x="423.2" y="258.87" width="30.8" height="4.08" fill="rgb(205,218,216)"/><rect x="454" y="258.87" width="30.6" height="4.08" fill="rgb(22,42,42)"/><rect x="423.2" y="262.91" width="30.8" height="4.08" fill="rgb(244,100,165)"/><rect x="454" y="262.91" width="30.6" height="4.08" fill="rgb(2,4,4)"/><rect x="423.2" y="266.94" width="30.8" height="4.08" fill="rgb(244,100,165)"/><rect x="454" y="266.94" width="30.6" height="4.08" fill="rgb(2,4,4)"/><rect x="423.2" y="270.98" width="30.8" height="4.08" fill="rgb(2,4,4)"/><rect x="454" y="270.98" width="30.6" height="4.08" fill="rgb(250,165,212)"/><rect x="423.2" y="275.01" width="30.8" height="4.08" fill="rgb(160,180,180)"/><rect x="454" y="275.01" width="30.6" height="4.08" fill="rgb(2,4,4)"/><rect x="423.2" y="279.05" width="30.8" height="4.08" fill="rgb(252,2,8)"/><rect x="454" y="279.05" width="30.6" height="4.08" fill="rgb(2,4,4)"/><rect x="423.2" y="283.08" width="30.8" height="4.08" fill="rgb(68,92,92)"/><rect x="454" y="283.08" width="30.6" height="4.08" fill="rgb(2,4,4)"/><rect x="423.2" y="287.12" width="30.8" height="4.08" fill="rgb(252,2,8)"/><rect x="454" y="287.12" width="30.6" height="4.08" fill="rgb(2,4,4)"/><rect x="423.2" y="291.15" width="30.8" height="4.08" fill="rgb(253,226,242)"/><rect x="454" y="291.15" width="30.6" height="4.08" fill="rgb(2,4,4)"/><rect x="423.2" y="295.19" width="30.8" height="4.08" fill="rgb(238,22,62)"/><rect x="454" y="295.19" width="30.6" height="4.08" fill="rgb(2,4,4)"/><rect x="423.2" y="299.22" width="30.8" height="4.08" fill="rgb(2,4,4)"/><rect x="454" y="299.22" width="30.6" height="4.08" fill="rgb(232,240,238)"/><rect x="423.2" y="303.26" width="30.8" height="4.08" fill="rgb(2,4,4)"/><rect x="454" y="303.26" width="30.6" height="4.08" fill="rgb(253,226,242)"/><rect x="423.2" y="307.29" width="30.8" height="4.08" fill="rgb(2,4,4)"/><rect x="454" y="307.29" width="30.6" height="4.08" fill="rgb(253,226,242)"/><rect x="423.2" y="311.33" width="30.8" height="4.08" fill="rgb(2,4,4)"/><rect x="454" y="311.33" width="30.6" height="4.08" fill="rgb(2,4,4)"/><path d="M423.2 8.7H484.6M423.2 12.73H484.6M423.2 16.77H484.6M423.2 20.8H484.6M423.2 24.84H484.6M423.2 28.88H484.6M423.2 32.91H484.6M423.2 36.95H484.6M423.2 40.98H484.6M423.2 45.02H484.6M423.2 49.05H484.6M423.2 53.09H484.6M423.2 57.12H484.6M423.2 61.16H484.6M423.2 65.19H484.6M423.2 69.23H484.6M423.2 73.26H484.6M423.2 77.3H484.6M423.2 81.33H484.6M423.2 85.37H484.6M423.2 89.4H484.6M423.2 93.44H484.6M423.2 97.47H484.6M423.2 101.51H484.6M423.2 105.54H484.6M423.2 109.58H484.6M423.2 113.61H484.6M423.2 117.65H484.6M423.2 121.68H484.6M423.2 125.72H484.6M423.2 129.75H484.6M423.2 133.78H484.6M423.2 137.82H484.6M423.2 141.85H484.6M423.2 145.89H484.6M423.2 149.92H484.6M423.2 153.96H484.6M423.2 158H484.6M423.2 162.03H484.6M423.2 166.06H484.6M423.2 170.1H484.6M423.2 174.13H484.6M423.2 178.17H484.6M423.2 182.21H484.6M423.2 186.24H484.6M423.2 190.28H484.6M423.2 194.31H484.6M423.2 198.34H484.6M423.2 202.38H484.6M423.2 206.41H484.6M423.2 210.45H484.6M423.2 214.48H484.6M423.2 218.52H484.6M423.2 222.56H484.6M423.2 226.59H484.6M423.2 230.62H484.6M423.2 234.66H484.6M423.2 238.69H484.6M423.2 242.73H484.6M423.2 246.77H484.6M423.2 250.8H484.6M423.2 254.84H484.6M423.2 258.87H484.6M423.2 262.91H484.6M423.2 266.94H484.6M423.2 270.98H484.6M423.2 275.01H484.6M423.2 279.05H484.6M423.2 283.08H484.6M423.2 287.12H484.6M423.2 291.15H484.6M423.2 295.19H484.6M423.2 299.22H484.6M423.2 303.26H484.6M423.2 307.29H484.6M423.2 311.33H484.6M454 4.67V315.36" stroke="#000" stroke-opacity="0.62" stroke-width="1.0" fill="none"/><rect x="423.2" y="4.3" width="61.4" height="310.6" fill="none" stroke="#000" stroke-width="1.0"/><text x="438.6" y="8.12" font-size="4.3" fill="#14143a" stroke="#14143a" stroke-width="0.08" text-anchor="middle">4</text><text x="469.6" y="8.12" font-size="4.3" fill="#14143a" stroke="#14143a" stroke-width="0.08" text-anchor="middle">1</text><text x="438.6" y="12.15" font-size="4.3" fill="#14143a" stroke="#14143a" stroke-width="0.08" text-anchor="middle">2</text><text x="469.6" y="12.15" font-size="4.3" fill="#14143a" stroke="#14143a" stroke-width="0.08" text-anchor="middle">5</text><text x="438.6" y="16.18" font-size="4.3" fill="#14143a" stroke="#14143a" stroke-width="0.08" text-anchor="middle">3</text><text x="469.6" y="16.18" font-size="4.3" fill="#14143a" stroke="#14143a" stroke-width="0.08" text-anchor="middle">4</text><text x="438.6" y="20.22" font-size="4.3" fill="#14143a" stroke="#14143a" stroke-width="0.08" text-anchor="middle">7</text><text x="469.6" y="20.22" font-size="4.3" fill="#14143a" stroke="#14143a" stroke-width="0.08" text-anchor="middle">2</text><text x="438.6" y="24.25" font-size="4.3" fill="#14143a" stroke="#14143a" stroke-width="0.08" text-anchor="middle">1</text><text x="469.6" y="24.25" font-size="4.3" fill="#14143a" stroke="#14143a" stroke-width="0.08" text-anchor="middle">3</text><text x="438.6" y="28.29" font-size="4.3" fill="#14143a" stroke="#14143a" stroke-width="0.08" text-anchor="middle">1</text><text x="469.6" y="28.29" font-size="4.3" fill="#14143a" stroke="#14143a" stroke-width="0.08" text-anchor="middle">7</text><text x="438.6" y="32.33" font-size="4.3" fill="#14143a" stroke="#14143a" stroke-width="0.08" text-anchor="middle">5</text><text x="469.6" y="32.33" font-size="4.3" fill="#14143a" stroke="#14143a" stroke-width="0.08" text-anchor="middle">1</text><text x="438.6" y="36.36" font-size="4.3" fill="#14143a" stroke="#14143a" stroke-width="0.08" text-anchor="middle">4</text><text x="469.6" y="36.36" font-size="4.3" fill="#14143a" stroke="#14143a" stroke-width="0.08" text-anchor="middle">1</text><text x="438.6" y="40.4" font-size="4.3" fill="#14143a" stroke="#14143a" stroke-width="0.08" text-anchor="middle">2</text><text x="469.6" y="40.4" font-size="4.3" fill="#14143a" stroke="#14143a" stroke-width="0.08" text-anchor="middle">6</text><text x="438.6" y="44.43" font-size="4.3" fill="#14143a" stroke="#14143a" stroke-width="0.08" text-anchor="middle">6</text><text x="469.6" y="44.43" font-size="4.3" fill="#14143a" stroke="#14143a" stroke-width="0.08" text-anchor="middle">4</text><text x="438.6" y="48.47" font-size="4.3" fill="#14143a" stroke="#14143a" stroke-width="0.08" text-anchor="middle">7</text><text x="469.6" y="48.47" font-size="4.3" fill="#14143a" stroke="#14143a" stroke-width="0.08" text-anchor="middle">2</text><text x="438.6" y="52.5" font-size="4.3" fill="#14143a" stroke="#14143a" stroke-width="0.08" text-anchor="middle">13</text><text x="469.6" y="52.5" font-size="4.3" fill="#14143a" stroke="#14143a" stroke-width="0.08" text-anchor="middle">3</text><text x="438.6" y="56.54" font-size="4.3" fill="#14143a" stroke="#14143a" stroke-width="0.08" text-anchor="middle">8</text><text x="469.6" y="56.54" font-size="4.3" fill="#14143a" stroke="#14143a" stroke-width="0.08" text-anchor="middle">13</text><text x="438.6" y="60.57" font-size="4.3" fill="#14143a" stroke="#14143a" stroke-width="0.08" text-anchor="middle">11</text><text x="469.6" y="60.57" font-size="4.3" fill="#14143a" stroke="#14143a" stroke-width="0.08" text-anchor="middle">13</text><text x="438.6" y="64.61" font-size="4.3" fill="#14143a" stroke="#14143a" stroke-width="0.08" text-anchor="middle">13</text><text x="469.6" y="64.61" font-size="4.3" fill="#14143a" stroke="#14143a" stroke-width="0.08" text-anchor="middle">1</text><text x="438.6" y="68.64" font-size="4.3" fill="#14143a" stroke="#14143a" stroke-width="0.08" text-anchor="middle">13</text><text x="469.6" y="68.64" font-size="4.3" fill="#14143a" stroke="#14143a" stroke-width="0.08" text-anchor="middle">5</text><text x="438.6" y="72.68" font-size="4.3" fill="#14143a" stroke="#14143a" stroke-width="0.08" text-anchor="middle">13</text><text x="469.6" y="72.68" font-size="4.3" fill="#14143a" stroke="#14143a" stroke-width="0.08" text-anchor="middle">4</text><text x="438.6" y="76.71" font-size="4.3" fill="#14143a" stroke="#14143a" stroke-width="0.08" text-anchor="middle">8</text><text x="469.6" y="76.71" font-size="4.3" fill="#14143a" stroke="#14143a" stroke-width="0.08" text-anchor="middle">11</text><text x="438.6" y="80.75" font-size="4.3" fill="#14143a" stroke="#14143a" stroke-width="0.08" text-anchor="middle">11</text><text x="469.6" y="80.75" font-size="4.3" fill="#14143a" stroke="#14143a" stroke-width="0.08" text-anchor="middle">6</text><text x="438.6" y="84.78" font-size="4.3" fill="#14143a" stroke="#14143a" stroke-width="0.08" text-anchor="middle">6</text><text x="469.6" y="84.78" font-size="4.3" fill="#14143a" stroke="#14143a" stroke-width="0.08" text-anchor="middle">7</text><text x="438.6" y="88.82" font-size="4.3" fill="#14143a" stroke="#14143a" stroke-width="0.08" text-anchor="middle">7</text><text x="469.6" y="88.82" font-size="4.3" fill="#14143a" stroke="#14143a" stroke-width="0.08" text-anchor="middle">13</text><text x="438.6" y="92.85" font-size="4.3" fill="#14143a" stroke="#14143a" stroke-width="0.08" text-anchor="middle">9</text><text x="469.6" y="92.85" font-size="4.3" fill="#14143a" stroke="#14143a" stroke-width="0.08" text-anchor="middle">13</text><text x="438.6" y="96.89" font-size="4.3" fill="#14143a" stroke="#14143a" stroke-width="0.08" text-anchor="middle">2</text><text x="469.6" y="96.89" font-size="4.3" fill="#14143a" stroke="#14143a" stroke-width="0.08" text-anchor="middle">16</text><text x="438.6" y="100.92" font-size="4.3" fill="#14143a" stroke="#14143a" stroke-width="0.08" text-anchor="middle">13</text><text x="469.6" y="100.92" font-size="4.3" fill="#14143a" stroke="#14143a" stroke-width="0.08" text-anchor="middle">6</text><text x="438.6" y="104.96" font-size="4.3" fill="#14143a" stroke="#14143a" stroke-width="0.08" text-anchor="middle">16</text><text x="469.6" y="104.96" font-size="4.3" fill="#14143a" stroke="#14143a" stroke-width="0.08" text-anchor="middle">7</text><text x="438.6" y="108.99" font-size="4.3" fill="#14143a" stroke="#14143a" stroke-width="0.08" text-anchor="middle">16</text><text x="469.6" y="108.99" font-size="4.3" fill="#14143a" stroke="#14143a" stroke-width="0.08" text-anchor="middle">9</text><text x="438.6" y="113.03" font-size="4.3" fill="#14143a" stroke="#14143a" stroke-width="0.08" text-anchor="middle">16</text><text x="469.6" y="113.03" font-size="4.3" fill="#14143a" stroke="#14143a" stroke-width="0.08" text-anchor="middle">8</text><text x="438.6" y="117.06" font-size="4.3" fill="#14143a" stroke="#14143a" stroke-width="0.08" text-anchor="middle">5</text><text x="469.6" y="117.06" font-size="4.3" fill="#14143a" stroke="#14143a" stroke-width="0.08" text-anchor="middle">18</text><text x="438.6" y="121.1" font-size="4.3" fill="#14143a" stroke="#14143a" stroke-width="0.08" text-anchor="middle">11</text><text x="469.6" y="121.1" font-size="4.3" fill="#14143a" stroke="#14143a" stroke-width="0.08" text-anchor="middle">17</text><text x="438.6" y="125.13" font-size="4.3" fill="#14143a" stroke="#14143a" stroke-width="0.08" text-anchor="middle">2</text><text x="469.6" y="125.13" font-size="4.3" fill="#14143a" stroke="#14143a" stroke-width="0.08" text-anchor="middle">17</text><text x="438.6" y="129.17" font-size="4.3" fill="#14143a" stroke="#14143a" stroke-width="0.08" text-anchor="middle">7</text><text x="469.6" y="129.17" font-size="4.3" fill="#14143a" stroke="#14143a" stroke-width="0.08" text-anchor="middle">17</text><text x="438.6" y="133.2" font-size="4.3" fill="#14143a" stroke="#14143a" stroke-width="0.08" text-anchor="middle">9</text><text x="469.6" y="133.2" font-size="4.3" fill="#14143a" stroke="#14143a" stroke-width="0.08" text-anchor="middle">17</text><text x="438.6" y="137.23" font-size="4.3" fill="#14143a" stroke="#14143a" stroke-width="0.08" text-anchor="middle">8</text><text x="469.6" y="137.23" font-size="4.3" fill="#14143a" stroke="#14143a" stroke-width="0.08" text-anchor="middle">17</text><text x="438.6" y="141.27" font-size="4.3" fill="#14143a" stroke="#14143a" stroke-width="0.08" text-anchor="middle">16</text><text x="469.6" y="141.27" font-size="4.3" fill="#14143a" stroke="#14143a" stroke-width="0.08" text-anchor="middle">13</text><text x="438.6" y="145.3" font-size="4.3" fill="#14143a" stroke="#14143a" stroke-width="0.08" text-anchor="middle">18</text><text x="469.6" y="145.3" font-size="4.3" fill="#14143a" stroke="#14143a" stroke-width="0.08" text-anchor="middle">1</text><text x="438.6" y="149.34" font-size="4.3" fill="#14143a" stroke="#14143a" stroke-width="0.08" text-anchor="middle">16</text><text x="469.6" y="149.34" font-size="4.3" fill="#14143a" stroke="#14143a" stroke-width="0.08" text-anchor="middle">13</text><text x="438.6" y="153.37" font-size="4.3" fill="#14143a" stroke="#14143a" stroke-width="0.08" text-anchor="middle">9</text><text x="469.6" y="153.37" font-size="4.3" fill="#14143a" stroke="#14143a" stroke-width="0.08" text-anchor="middle">18</text><text x="438.6" y="157.41" font-size="4.3" fill="#14143a" stroke="#14143a" stroke-width="0.08" text-anchor="middle">8</text><text x="469.6" y="157.41" font-size="4.3" fill="#14143a" stroke="#14143a" stroke-width="0.08" text-anchor="middle">18</text><text x="438.6" y="161.44" font-size="4.3" fill="#14143a" stroke="#14143a" stroke-width="0.08" text-anchor="middle">13</text><text x="469.6" y="161.44" font-size="4.3" fill="#14143a" stroke="#14143a" stroke-width="0.08" text-anchor="middle">18</text><text x="438.6" y="165.48" font-size="4.3" fill="#14143a" stroke="#14143a" stroke-width="0.08" text-anchor="middle">18</text><text x="469.6" y="165.48" font-size="4.3" fill="#14143a" stroke="#14143a" stroke-width="0.08" text-anchor="middle">16</text><text x="438.6" y="169.51" font-size="4.3" fill="#14143a" stroke="#14143a" stroke-width="0.08" text-anchor="middle">18</text><text x="469.6" y="169.51" font-size="4.3" fill="#14143a" stroke="#14143a" stroke-width="0.08" text-anchor="middle">16</text><text x="438.6" y="173.55" font-size="4.3" fill="#14143a" stroke="#14143a" stroke-width="0.08" text-anchor="middle">5</text><text x="469.6" y="173.55" font-size="4.3" fill="#14143a" stroke="#14143a" stroke-width="0.08" text-anchor="middle">28</text><text x="438.6" y="177.58" font-size="4.3" fill="#14143a" stroke="#14143a" stroke-width="0.08" text-anchor="middle">18</text><text x="469.6" y="177.58" font-size="4.3" fill="#14143a" stroke="#14143a" stroke-width="0.08" text-anchor="middle">16</text><text x="438.6" y="181.62" font-size="4.3" fill="#14143a" stroke="#14143a" stroke-width="0.08" text-anchor="middle">18</text><text x="469.6" y="181.62" font-size="4.3" fill="#14143a" stroke="#14143a" stroke-width="0.08" text-anchor="middle">16</text><text x="438.6" y="185.66" font-size="4.3" fill="#14143a" stroke="#14143a" stroke-width="0.08" text-anchor="middle">6</text><text x="469.6" y="185.66" font-size="4.3" fill="#14143a" stroke="#14143a" stroke-width="0.08" text-anchor="middle">24</text><text x="438.6" y="189.69" font-size="4.3" fill="#14143a" stroke="#14143a" stroke-width="0.08" text-anchor="middle">7</text><text x="469.6" y="189.69" font-size="4.3" fill="#ffffff" stroke="#ffffff" stroke-width="0.22" text-anchor="middle">35</text><text x="438.6" y="193.72" font-size="4.3" fill="#14143a" stroke="#14143a" stroke-width="0.08" text-anchor="middle">18</text><text x="469.6" y="193.72" font-size="4.3" fill="#14143a" stroke="#14143a" stroke-width="0.08" text-anchor="middle">20</text><text x="438.6" y="197.76" font-size="4.3" fill="#14143a" stroke="#14143a" stroke-width="0.08" text-anchor="middle">24</text><text x="469.6" y="197.76" font-size="4.3" fill="#14143a" stroke="#14143a" stroke-width="0.08" text-anchor="middle">16</text><text x="438.6" y="201.79" font-size="4.3" fill="#14143a" stroke="#14143a" stroke-width="0.08" text-anchor="middle">24</text><text x="469.6" y="201.79" font-size="4.3" fill="#14143a" stroke="#14143a" stroke-width="0.08" text-anchor="middle">13</text><text x="438.6" y="205.83" font-size="4.3" fill="#14143a" stroke="#14143a" stroke-width="0.08" text-anchor="middle">13</text><text x="469.6" y="205.83" font-size="4.3" fill="#14143a" stroke="#14143a" stroke-width="0.08" text-anchor="middle">27</text><text x="438.6" y="209.86" font-size="4.3" fill="#14143a" stroke="#14143a" stroke-width="0.08" text-anchor="middle">16</text><text x="469.6" y="209.86" font-size="4.3" fill="#14143a" stroke="#14143a" stroke-width="0.08" text-anchor="middle">22</text><text x="438.6" y="213.9" font-size="4.3" fill="#14143a" stroke="#14143a" stroke-width="0.08" text-anchor="middle">9</text><text x="469.6" y="213.9" font-size="4.3" fill="#ffffff" stroke="#ffffff" stroke-width="0.22" text-anchor="middle">32</text><text x="438.6" y="217.93" font-size="4.3" fill="#14143a" stroke="#14143a" stroke-width="0.08" text-anchor="middle">7</text><text x="469.6" y="217.93" font-size="4.3" fill="#ffffff" stroke="#ffffff" stroke-width="0.22" text-anchor="middle">76</text><text x="438.6" y="221.97" font-size="4.3" fill="#ffffff" stroke="#ffffff" stroke-width="0.22" text-anchor="middle">75</text><text x="469.6" y="221.97" font-size="4.3" fill="#14143a" stroke="#14143a" stroke-width="0.08" text-anchor="middle">13</text><text x="438.6" y="226" font-size="4.3" fill="#ffffff" stroke="#ffffff" stroke-width="0.22" text-anchor="middle">43</text><text x="469.6" y="226" font-size="4.3" fill="#14143a" stroke="#14143a" stroke-width="0.08" text-anchor="middle">13</text><text x="438.6" y="230.04" font-size="4.3" fill="#14143a" stroke="#14143a" stroke-width="0.08" text-anchor="middle">20</text><text x="469.6" y="230.04" font-size="4.3" fill="#14143a" stroke="#14143a" stroke-width="0.08" text-anchor="middle">24</text><text x="438.6" y="234.07" font-size="4.3" fill="#14143a" stroke="#14143a" stroke-width="0.08" text-anchor="middle">9</text><text x="469.6" y="234.07" font-size="4.3" fill="#ffffff" stroke="#ffffff" stroke-width="0.22" text-anchor="middle">51</text><text x="438.6" y="238.11" font-size="4.3" fill="#14143a" stroke="#14143a" stroke-width="0.08" text-anchor="middle">17</text><text x="469.6" y="238.11" font-size="4.3" fill="#ffffff" stroke="#ffffff" stroke-width="0.22" text-anchor="middle">32</text><text x="438.6" y="242.14" font-size="4.3" fill="#ffffff" stroke="#ffffff" stroke-width="0.22" text-anchor="middle">76</text><text x="469.6" y="242.14" font-size="4.3" fill="#14143a" stroke="#14143a" stroke-width="0.08" text-anchor="middle">16</text><text x="438.6" y="246.18" font-size="4.3" fill="#ffffff" stroke="#ffffff" stroke-width="0.22" text-anchor="middle">53</text><text x="469.6" y="246.18" font-size="4.3" fill="#14143a" stroke="#14143a" stroke-width="0.08" text-anchor="middle">13</text><text x="438.6" y="250.22" font-size="4.3" fill="#14143a" stroke="#14143a" stroke-width="0.08" text-anchor="middle">14</text><text x="469.6" y="250.22" font-size="4.3" fill="#ffffff" stroke="#ffffff" stroke-width="0.22" text-anchor="middle">62</text><text x="438.6" y="254.25" font-size="4.3" fill="#14143a" stroke="#14143a" stroke-width="0.08" text-anchor="middle">18</text><text x="469.6" y="254.25" font-size="4.3" fill="#ffffff" stroke="#ffffff" stroke-width="0.22" text-anchor="middle">60</text><text x="438.6" y="258.29" font-size="4.3" fill="#14143a" stroke="#14143a" stroke-width="0.08" text-anchor="middle">13</text><text x="469.6" y="258.29" font-size="4.3" fill="#ffffff" stroke="#ffffff" stroke-width="0.22" text-anchor="middle">47</text><text x="438.6" y="262.32" font-size="4.3" fill="#14143a" stroke="#14143a" stroke-width="0.08" text-anchor="middle">24</text><text x="469.6" y="262.32" font-size="4.3" fill="#ffffff" stroke="#ffffff" stroke-width="0.22" text-anchor="middle">35</text><text x="438.6" y="266.36" font-size="4.3" fill="#14143a" stroke="#14143a" stroke-width="0.08" text-anchor="middle">13</text><text x="469.6" y="266.36" font-size="4.3" fill="#ffffff" stroke="#ffffff" stroke-width="0.22" text-anchor="middle">53</text><text x="438.6" y="270.39" font-size="4.3" fill="#14143a" stroke="#14143a" stroke-width="0.08" text-anchor="middle">13</text><text x="469.6" y="270.39" font-size="4.3" fill="#ffffff" stroke="#ffffff" stroke-width="0.22" text-anchor="middle">41</text><text x="438.6" y="274.43" font-size="4.3" fill="#ffffff" stroke="#ffffff" stroke-width="0.22" text-anchor="middle">62</text><text x="469.6" y="274.43" font-size="4.3" fill="#14143a" stroke="#14143a" stroke-width="0.08" text-anchor="middle">16</text><text x="438.6" y="278.46" font-size="4.3" fill="#14143a" stroke="#14143a" stroke-width="0.08" text-anchor="middle">28</text><text x="469.6" y="278.46" font-size="4.3" fill="#ffffff" stroke="#ffffff" stroke-width="0.22" text-anchor="middle">51</text><text x="438.6" y="282.5" font-size="4.3" fill="#14143a" stroke="#14143a" stroke-width="0.08" text-anchor="middle">1</text><text x="469.6" y="282.5" font-size="4.3" fill="#ffffff" stroke="#ffffff" stroke-width="0.22" text-anchor="middle">67</text><text x="438.6" y="286.53" font-size="4.3" fill="#ffffff" stroke="#ffffff" stroke-width="0.22" text-anchor="middle">32</text><text x="469.6" y="286.53" font-size="4.3" fill="#ffffff" stroke="#ffffff" stroke-width="0.22" text-anchor="middle">75</text><text x="438.6" y="290.56" font-size="4.3" fill="#14143a" stroke="#14143a" stroke-width="0.08" text-anchor="middle">4</text><text x="469.6" y="290.56" font-size="4.3" fill="#ffffff" stroke="#ffffff" stroke-width="0.22" text-anchor="middle">43</text><text x="438.6" y="294.6" font-size="4.3" fill="#14143a" stroke="#14143a" stroke-width="0.08" text-anchor="middle">18</text><text x="469.6" y="294.6" font-size="4.3" fill="#ffffff" stroke="#ffffff" stroke-width="0.22" text-anchor="middle">62</text><text x="438.6" y="298.63" font-size="4.3" fill="#14143a" stroke="#14143a" stroke-width="0.08" text-anchor="middle">8</text><text x="469.6" y="298.63" font-size="4.3" fill="#ffffff" stroke="#ffffff" stroke-width="0.22" text-anchor="middle">60</text><text x="438.6" y="302.67" font-size="4.3" fill="#ffffff" stroke="#ffffff" stroke-width="0.22" text-anchor="middle">51</text><text x="469.6" y="302.67" font-size="4.3" fill="#14143a" stroke="#14143a" stroke-width="0.08" text-anchor="middle">22</text><text x="438.6" y="306.71" font-size="4.3" fill="#ffffff" stroke="#ffffff" stroke-width="0.22" text-anchor="middle">67</text><text x="469.6" y="306.71" font-size="4.3" fill="#14143a" stroke="#14143a" stroke-width="0.08" text-anchor="middle">18</text><text x="438.6" y="310.74" font-size="4.3" fill="#ffffff" stroke="#ffffff" stroke-width="0.22" text-anchor="middle">75</text><text x="469.6" y="310.74" font-size="4.3" fill="#14143a" stroke="#14143a" stroke-width="0.08" text-anchor="middle">18</text><text x="438.6" y="314.78" font-size="4.3" fill="#ffffff" stroke="#ffffff" stroke-width="0.22" text-anchor="middle">43</text><text x="469.6" y="314.78" font-size="4.3" fill="#ffffff" stroke="#ffffff" stroke-width="0.22" text-anchor="middle">41</text><text x="418.8" y="8.56" font-size="6.4" fill="#2a2a2a" stroke="#2a2a2a" stroke-width="0.1" text-anchor="end">405</text><text x="418.8" y="12.6" font-size="6.4" fill="#2a2a2a" stroke="#2a2a2a" stroke-width="0.1" text-anchor="end">404</text><text x="418.8" y="16.63" font-size="6.4" fill="#2a2a2a" stroke="#2a2a2a" stroke-width="0.1" text-anchor="end">402</text><text x="418.8" y="20.67" font-size="6.4" fill="#2a2a2a" stroke="#2a2a2a" stroke-width="0.1" text-anchor="end">410</text><text x="418.8" y="24.7" font-size="6.4" fill="#2a2a2a" stroke="#2a2a2a" stroke-width="0.1" text-anchor="end">403</text><text x="418.8" y="28.74" font-size="6.4" fill="#2a2a2a" stroke="#2a2a2a" stroke-width="0.1" text-anchor="end">409</text><text x="418.8" y="32.77" font-size="6.4" fill="#2a2a2a" stroke="#2a2a2a" stroke-width="0.1" text-anchor="end">402</text><text x="418.8" y="36.81" font-size="6.4" fill="#2a2a2a" stroke="#2a2a2a" stroke-width="0.1" text-anchor="end">407</text><text x="418.8" y="40.84" font-size="6.4" fill="#2a2a2a" stroke="#2a2a2a" stroke-width="0.1" text-anchor="end">408</text><text x="418.8" y="44.88" font-size="6.4" fill="#2a2a2a" stroke="#2a2a2a" stroke-width="0.1" text-anchor="end">409</text><text x="418.8" y="48.91" font-size="6.4" fill="#2a2a2a" stroke="#2a2a2a" stroke-width="0.1" text-anchor="end">401</text><text x="418.8" y="52.95" font-size="6.4" fill="#2a2a2a" stroke="#2a2a2a" stroke-width="0.1" text-anchor="end">405</text><text x="418.8" y="56.98" font-size="6.4" fill="#2a2a2a" stroke="#2a2a2a" stroke-width="0.1" text-anchor="end">408</text><text x="418.8" y="61.02" font-size="6.4" fill="#2a2a2a" stroke="#2a2a2a" stroke-width="0.1" text-anchor="end">406</text><text x="418.8" y="65.06" font-size="6.4" fill="#2a2a2a" stroke="#2a2a2a" stroke-width="0.1" text-anchor="end">410</text><text x="418.8" y="69.09" font-size="6.4" fill="#2a2a2a" stroke="#2a2a2a" stroke-width="0.1" text-anchor="end">405</text><text x="418.8" y="73.13" font-size="6.4" fill="#2a2a2a" stroke="#2a2a2a" stroke-width="0.1" text-anchor="end">404</text><text x="418.8" y="77.16" font-size="6.4" fill="#2a2a2a" stroke="#2a2a2a" stroke-width="0.1" text-anchor="end">402</text><text x="418.8" y="81.2" font-size="6.4" fill="#2a2a2a" stroke="#2a2a2a" stroke-width="0.1" text-anchor="end">410</text><text x="418.8" y="85.23" font-size="6.4" fill="#2a2a2a" stroke="#2a2a2a" stroke-width="0.1" text-anchor="end">403</text><text x="418.8" y="89.27" font-size="6.4" fill="#2a2a2a" stroke="#2a2a2a" stroke-width="0.1" text-anchor="end">409</text><text x="418.8" y="93.3" font-size="6.4" fill="#2a2a2a" stroke="#2a2a2a" stroke-width="0.1" text-anchor="end">402</text><text x="418.8" y="97.34" font-size="6.4" fill="#2a2a2a" stroke="#2a2a2a" stroke-width="0.1" text-anchor="end">407</text><text x="418.8" y="101.37" font-size="6.4" fill="#2a2a2a" stroke="#2a2a2a" stroke-width="0.1" text-anchor="end">408</text><text x="418.8" y="105.41" font-size="6.4" fill="#2a2a2a" stroke="#2a2a2a" stroke-width="0.1" text-anchor="end">409</text><text x="418.8" y="109.44" font-size="6.4" fill="#2a2a2a" stroke="#2a2a2a" stroke-width="0.1" text-anchor="end">401</text><text x="418.8" y="113.48" font-size="6.4" fill="#2a2a2a" stroke="#2a2a2a" stroke-width="0.1" text-anchor="end">405</text><text x="418.8" y="117.51" font-size="6.4" fill="#2a2a2a" stroke="#2a2a2a" stroke-width="0.1" text-anchor="end">408</text><text x="418.8" y="121.55" font-size="6.4" fill="#2a2a2a" stroke="#2a2a2a" stroke-width="0.1" text-anchor="end">406</text><text x="418.8" y="125.58" font-size="6.4" fill="#2a2a2a" stroke="#2a2a2a" stroke-width="0.1" text-anchor="end">410</text><text x="418.8" y="129.62" font-size="6.4" fill="#2a2a2a" stroke="#2a2a2a" stroke-width="0.1" text-anchor="end">405</text><text x="418.8" y="133.65" font-size="6.4" fill="#2a2a2a" stroke="#2a2a2a" stroke-width="0.1" text-anchor="end">404</text><text x="418.8" y="137.69" font-size="6.4" fill="#2a2a2a" stroke="#2a2a2a" stroke-width="0.1" text-anchor="end">402</text><text x="418.8" y="141.72" font-size="6.4" fill="#2a2a2a" stroke="#2a2a2a" stroke-width="0.1" text-anchor="end">410</text><text x="418.8" y="145.75" font-size="6.4" fill="#2a2a2a" stroke="#2a2a2a" stroke-width="0.1" text-anchor="end">403</text><text x="418.8" y="149.79" font-size="6.4" fill="#2a2a2a" stroke="#2a2a2a" stroke-width="0.1" text-anchor="end">409</text><text x="418.8" y="153.82" font-size="6.4" fill="#2a2a2a" stroke="#2a2a2a" stroke-width="0.1" text-anchor="end">402</text><text x="418.8" y="157.86" font-size="6.4" fill="#2a2a2a" stroke="#2a2a2a" stroke-width="0.1" text-anchor="end">407</text><text x="418.8" y="161.9" font-size="6.4" fill="#2a2a2a" stroke="#2a2a2a" stroke-width="0.1" text-anchor="end">408</text><text x="418.8" y="165.93" font-size="6.4" fill="#2a2a2a" stroke="#2a2a2a" stroke-width="0.1" text-anchor="end">409</text><text x="418.8" y="169.97" font-size="6.4" fill="#2a2a2a" stroke="#2a2a2a" stroke-width="0.1" text-anchor="end">401</text><text x="418.8" y="174" font-size="6.4" fill="#2a2a2a" stroke="#2a2a2a" stroke-width="0.1" text-anchor="end">405</text><text x="418.8" y="178.03" font-size="6.4" fill="#2a2a2a" stroke="#2a2a2a" stroke-width="0.1" text-anchor="end">408</text><text x="418.8" y="182.07" font-size="6.4" fill="#2a2a2a" stroke="#2a2a2a" stroke-width="0.1" text-anchor="end">406</text><text x="418.8" y="186.11" font-size="6.4" fill="#2a2a2a" stroke="#2a2a2a" stroke-width="0.1" text-anchor="end">410</text><text x="418.8" y="190.14" font-size="6.4" fill="#2a2a2a" stroke="#2a2a2a" stroke-width="0.1" text-anchor="end">405</text><text x="418.8" y="194.18" font-size="6.4" fill="#2a2a2a" stroke="#2a2a2a" stroke-width="0.1" text-anchor="end">404</text><text x="418.8" y="198.21" font-size="6.4" fill="#2a2a2a" stroke="#2a2a2a" stroke-width="0.1" text-anchor="end">402</text><text x="418.8" y="202.25" font-size="6.4" fill="#2a2a2a" stroke="#2a2a2a" stroke-width="0.1" text-anchor="end">410</text><text x="418.8" y="206.28" font-size="6.4" fill="#2a2a2a" stroke="#2a2a2a" stroke-width="0.1" text-anchor="end">403</text><text x="418.8" y="210.31" font-size="6.4" fill="#2a2a2a" stroke="#2a2a2a" stroke-width="0.1" text-anchor="end">409</text><text x="418.8" y="214.35" font-size="6.4" fill="#2a2a2a" stroke="#2a2a2a" stroke-width="0.1" text-anchor="end">402</text><text x="418.8" y="218.38" font-size="6.4" fill="#2a2a2a" stroke="#2a2a2a" stroke-width="0.1" text-anchor="end">407</text><text x="418.8" y="222.42" font-size="6.4" fill="#2a2a2a" stroke="#2a2a2a" stroke-width="0.1" text-anchor="end">408</text><text x="418.8" y="226.46" font-size="6.4" fill="#2a2a2a" stroke="#2a2a2a" stroke-width="0.1" text-anchor="end">409</text><text x="418.8" y="230.49" font-size="6.4" fill="#2a2a2a" stroke="#2a2a2a" stroke-width="0.1" text-anchor="end">401</text><text x="418.8" y="234.53" font-size="6.4" fill="#2a2a2a" stroke="#2a2a2a" stroke-width="0.1" text-anchor="end">405</text><text x="418.8" y="238.56" font-size="6.4" fill="#2a2a2a" stroke="#2a2a2a" stroke-width="0.1" text-anchor="end">408</text><text x="418.8" y="242.59" font-size="6.4" fill="#2a2a2a" stroke="#2a2a2a" stroke-width="0.1" text-anchor="end">406</text><text x="418.8" y="246.63" font-size="6.4" fill="#2a2a2a" stroke="#2a2a2a" stroke-width="0.1" text-anchor="end">410</text><text x="418.8" y="250.67" font-size="6.4" fill="#2a2a2a" stroke="#2a2a2a" stroke-width="0.1" text-anchor="end">405</text><text x="418.8" y="254.7" font-size="6.4" fill="#2a2a2a" stroke="#2a2a2a" stroke-width="0.1" text-anchor="end">404</text><text x="418.8" y="258.74" font-size="6.4" fill="#2a2a2a" stroke="#2a2a2a" stroke-width="0.1" text-anchor="end">402</text><text x="418.8" y="262.77" font-size="6.4" fill="#2a2a2a" stroke="#2a2a2a" stroke-width="0.1" text-anchor="end">410</text><text x="418.8" y="266.81" font-size="6.4" fill="#2a2a2a" stroke="#2a2a2a" stroke-width="0.1" text-anchor="end">403</text><text x="418.8" y="270.84" font-size="6.4" fill="#2a2a2a" stroke="#2a2a2a" stroke-width="0.1" text-anchor="end">409</text><text x="418.8" y="274.88" font-size="6.4" fill="#2a2a2a" stroke="#2a2a2a" stroke-width="0.1" text-anchor="end">402</text><text x="418.8" y="278.91" font-size="6.4" fill="#2a2a2a" stroke="#2a2a2a" stroke-width="0.1" text-anchor="end">407</text><text x="418.8" y="282.94" font-size="6.4" fill="#2a2a2a" stroke="#2a2a2a" stroke-width="0.1" text-anchor="end">408</text><text x="418.8" y="286.98" font-size="6.4" fill="#2a2a2a" stroke="#2a2a2a" stroke-width="0.1" text-anchor="end">409</text><text x="418.8" y="291.01" font-size="6.4" fill="#2a2a2a" stroke="#2a2a2a" stroke-width="0.1" text-anchor="end">401</text><text x="418.8" y="295.05" font-size="6.4" fill="#2a2a2a" stroke="#2a2a2a" stroke-width="0.1" text-anchor="end">405</text><text x="418.8" y="299.08" font-size="6.4" fill="#2a2a2a" stroke="#2a2a2a" stroke-width="0.1" text-anchor="end">408</text><text x="418.8" y="303.12" font-size="6.4" fill="#2a2a2a" stroke="#2a2a2a" stroke-width="0.1" text-anchor="end">406</text><text x="418.8" y="307.16" font-size="6.4" fill="#2a2a2a" stroke="#2a2a2a" stroke-width="0.1" text-anchor="end">410</text><text x="418.8" y="311.19" font-size="6.4" fill="#2a2a2a" stroke="#2a2a2a" stroke-width="0.1" text-anchor="end">405</text><text x="418.8" y="315.23" font-size="6.4" fill="#2a2a2a" stroke="#2a2a2a" stroke-width="0.1" text-anchor="end">404</text><text class="k2" x="436.3" y="324.4" font-size="7.8">t1</text><text class="k2" x="465.3" y="324.4" font-size="7.8">t2</text><rect x="491.6" y="6.3" width="10.2" height="95.3" fill="url(#cb)" stroke="#111" stroke-width="0.9"/><path d="M491.6 30.9h1.6M501.8 30.9h-1.6M491.6 55.5h1.6M501.8 55.5h-1.6M491.6 79.5h1.6M501.8 79.5h-1.6" stroke="#000" stroke-width="0.8"/><text class="k2" x="505.3" y="9.1" font-size="6.5">40</text><text class="k2" x="505.3" y="33.2" font-size="6.5">30</text><text class="k2" x="505.3" y="57.8" font-size="6.5">20</text><text class="k2" x="505.3" y="81.8" font-size="6.5">10</text><rect x="0.65" y="0.65" width="518.7" height="328.7" fill="none" stroke="#000" stroke-width="1.3"/></svg></body></html>
